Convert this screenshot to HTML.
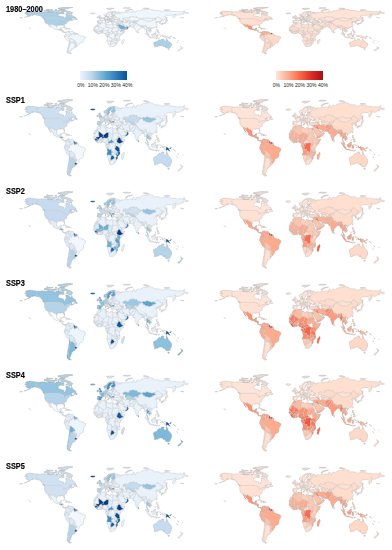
<!DOCTYPE html>
<html><head><meta charset="utf-8"><style>
html,body{margin:0;padding:0;background:#fff;}
body{width:392px;height:550px;position:relative;overflow:hidden;font-family:"Liberation Sans",sans-serif;}
.m{position:absolute;overflow:visible;filter:blur(0.7px);}
svg *{vector-effect:non-scaling-stroke;}
.lab{position:absolute;font-weight:bold;font-size:8.4px;line-height:1;color:#000;-webkit-text-stroke:0.15px #000;white-space:nowrap;letter-spacing:0px;transform:scaleX(0.88);transform-origin:0 0}
.cb{position:absolute;}
.cbl{position:absolute;font-size:5.0px;line-height:1;color:#222;white-space:nowrap;}
</style></head><body>
<svg width="0" height="0" style="position:absolute"><defs><path id="land" d="M-168.1 -65.6 -164.5 -66.6 -162 -66.5 -164 -67.6 -166.8 -68.35 -163.5 -69.8 -157 -71.3 -152 -70.8 -146 -70.2 -141 -69.7 -136 -69.1 -133 -69.6 -129.5 -70 -125 -69.4 -120 -69.3 -115 -68.8 -110 -68 -106 -68.8 -101.5 -67.8 -98 -68 -95.5 -68.5 -94.5 -71.3 -92 -70 -89 -68.9 -86.5 -68 -84 -69.3 -82 -68.5 -81.3 -67.2 -83.5 -66.5 -86.5 -66.5 -88 -64.2 -90.7 -63.3 -93 -62 -94.5 -60 -94.2 -58.8 -92.5 -57.1 -88.5 -56.4 -85.5 -55.3 -82.3 -55.1 -82.3 -53 -80.5 -51.3 -79 -51.6 -78.8 -54.5 -76.6 -56.5 -77.3 -58.3 -78 -60.5 -77.8 -62.4 -74 -62.2 -71.5 -61.1 -69.6 -60.8 -69.3 -58.8 -67.5 -58.3 -65.9 -59.5 -64.5 -60.3 -63 -58 -61.5 -56.5 -59.5 -55 -57.3 -54 -55.7 -52.3 -57.2 -51.4 -60 -50.2 -64.5 -50.2 -67 -49.4 -69.7 -48.1 -68 -48.6 -65 -49.2 -64.2 -48.8 -65 -48 -64.7 -46.8 -63.3 -45.8 -61 -45.6 -60.3 -47 -59.8 -46 -61.5 -45.3 -63.5 -44.6 -65.7 -43.5 -66 -45.1 -67 -44.8 -68.8 -44.3 -70.2 -43.6 -70.8 -42.5 -70 -41.8 -71.5 -41.3 -74 -40.5 -74.2 -39.5 -75 -38.8 -75.8 -37.2 -76 -36.8 -75.5 -35.3 -76.5 -34.7 -77.9 -33.9 -79.2 -33.2 -80.9 -32 -81.4 -30.5 -80.6 -28.5 -80.1 -26.6 -80.4 -25.2 -81.2 -25.2 -81.8 -26.5 -82.7 -28 -82.8 -29.2 -84 -30.1 -85.4 -29.7 -86.5 -30.4 -88.5 -30.4 -89.5 -30.2 -89.3 -29.1 -90.5 -29.1 -92 -29.6 -94 -29.6 -95 -29.2 -96.8 -28.1 -97.4 -27.2 -97.2 -25.9 -97.7 -24 -97.8 -22.3 -97.2 -20.6 -96.4 -19.3 -95 -18.5 -94.4 -18.2 -92.5 -18.6 -91.3 -18.6 -90.5 -19.5 -90.4 -20.9 -88.5 -21.5 -86.8 -21.3 -87.5 -19.6 -87.8 -18.3 -88.3 -17.5 -88.3 -16 -87.5 -15.8 -85.5 -15.9 -84 -15.5 -83.2 -15 -83.5 -13.8 -83.7 -12 -83.8 -11 -83.3 -10.3 -82 -9 -81 -8.8 -79.5 -9.5 -78 -8.9 -77.4 -8.6 -77.3 -8 -77.9 -7.2 -78.5 -8.2 -80 -7.3 -80.5 -8.2 -82 -8.2 -83.5 -8.5 -85 -9.6 -85.8 -10.2 -85.7 -11 -87.3 -12.8 -88 -13.2 -89.8 -13.5 -91.5 -13.9 -92.3 -14.5 -93.9 -15.9 -96.5 -15.6 -98.5 -16.3 -100 -16.9 -101.7 -17.8 -103.5 -18.3 -105 -19.4 -105.6 -20.4 -105.3 -21.5 -105.8 -22.6 -106.9 -23.8 -108.2 -25.2 -109.4 -26 -110.6 -27.8 -111.7 -28.9 -112.8 -30.5 -113.2 -31.2 -114.8 -31.8 -114.5 -30.2 -113.3 -28.8 -112.6 -27.6 -112.1 -26.4 -111.3 -25.5 -110.7 -24.4 -110 -23.7 -109.5 -23.2 -109.9 -22.9 -110.3 -23.6 -112.1 -24.8 -113.6 -26.7 -115.1 -27.8 -114.3 -28.6 -115.8 -30.3 -116.7 -31.8 -117.1 -32.5 -118.4 -33.8 -120.6 -34.5 -121.9 -36.5 -122.5 -37.5 -123 -38 -123.8 -39.8 -124.3 -40.4 -124.2 -42 -124.1 -44 -124 -46.2 -124.7 -48.4 -123 -48.2 -123.2 -49 -124.8 -50 -125 -50.3 -127.5 -51 -128.3 -52.5 -130 -54.3 -130.5 -55 -131.8 -56 -133 -57 -135.2 -58.5 -136.5 -58.2 -138.5 -59.1 -140.5 -59.7 -143.5 -60 -146 -60.6 -148 -60 -149.8 -59.7 -151.8 -59.3 -151.3 -60.7 -149.5 -61.2 -152 -60.2 -153.5 -59.3 -154 -58 -156.3 -57 -158.5 -56 -161 -55.4 -163.5 -54.7 -164.8 -54.4 -163 -55.2 -160.5 -56.2 -158.8 -57.2 -157.5 -58.2 -158.5 -58.8 -160 -58.6 -162 -58.7 -162.2 -60 -164.8 -60.3 -165.3 -61.5 -164.8 -62.7 -163.2 -63.1 -161 -64.4 -163.5 -64.5 -166.2 -64.6ZM-77.4 -8.6 -76 -9.4 -75.5 -10.6 -74.2 -11.2 -72.3 -11.9 -71.3 -12.4 -71.1 -11.5 -71.6 -10.9 -70.2 -11.5 -70 -12.1 -69.5 -11.5 -68.2 -10.6 -66.2 -10.6 -64.3 -10.6 -62.5 -10.7 -61.8 -10.1 -61 -8.6 -59.8 -8.3 -58.2 -6.8 -57.1 -6 -55 -6 -53.8 -5.7 -52 -4.8 -51.2 -4 -50.6 -1.9 -50 -1.5 -49.9 0.2 -48.5 1 -46.5 1 -44.3 2.5 -42 2.8 -39.5 3 -37.2 4.8 -35.3 5.3 -34.8 7.5 -35.2 9 -37 11 -38.5 13 -39 15 -39.2 17.5 -39.7 19.6 -40.9 22 -42 22.9 -44.5 23.2 -46.5 24 -48.4 25.8 -48.6 28 -49.8 29.3 -51 31 -52.2 32.2 -53.4 33.7 -54.9 34.9 -56.4 34.8 -58.4 34.5 -57.2 36 -56.8 36.6 -57.6 38.2 -61.5 39 -62.3 39.2 -62.2 40.6 -65 41 -64.5 42.3 -63.8 42.5 -65 43 -65.5 45 -67.5 46.3 -66 47.7 -67.6 49.3 -68.8 50.5 -69 51.6 -68.4 52.4 -68.5 53 -67 54.5 -65.2 54.7 -68 55.5 -70 55.2 -72 54 -73.5 53 -75 51.5 -75.3 49 -74.5 47 -75.6 46.6 -74.2 45 -73.5 43 -73.8 41.5 -73.6 38.5 -73.2 37 -72.5 35 -71.7 33 -71.5 30 -71.3 27.5 -70.6 25 -70.2 22 -70.3 18.5 -71.4 17.5 -73.2 16.4 -75.2 15.2 -76.3 13.8 -77.2 12 -78.6 9.5 -79.6 7.5 -81.2 6 -81.3 4.3 -80.3 3.4 -80.9 2.2 -80 0.5 -80.1 -0.8 -79.2 -1.5 -78.8 -1.8 -77.5 -3.8 -77.4 -6.5 -77.9 -7.2 -77.3 -8ZM-5.6 -36 -6.4 -36.8 -7.4 -37.2 -8.9 -37 -8.8 -38.7 -9.5 -38.8 -8.9 -40.2 -8.7 -42 -9.3 -43 -8 -43.7 -5.8 -43.6 -1.8 -43.4 -1.2 -44.5 -1.2 -46 -2.2 -47.1 -4.5 -47.9 -4.7 -48.5 -3 -48.8 -1.6 -48.6 -1.4 -49.7 -0.2 -49.3 1.2 -50 1.6 -50.9 2.5 -51.1 3.8 -51.4 4.3 -52.2 4.8 -53 6 -53.5 7.2 -53.5 8.6 -53.9 8.9 -54.5 8.6 -55.5 8.1 -56.6 8.6 -57.1 10.6 -57.7 10.3 -56.2 9.8 -55 10.9 -54.4 12 -54.2 13.5 -54.4 14.3 -53.9 16 -54.3 18.5 -54.8 19.6 -54.4 21.2 -55.2 21 -56.5 21.6 -57.4 22.6 -57.7 23.3 -57 24.4 -57.3 24.4 -58.3 23.5 -58.7 23.5 -59.2 25 -59.5 28 -59.5 29.5 -59.9 28.5 -60.5 26.5 -60.4 22.9 -59.8 21.4 -60.8 21.5 -61.8 21 -62.6 22.2 -63.5 24.5 -64.8 25.4 -65.1 25.4 -65.6 24.2 -65.8 22.3 -65.8 21.2 -64.8 20.3 -63.7 18.8 -63.1 17.5 -62.3 17.3 -61.2 17.5 -60.6 18.8 -60.1 18 -59 16.5 -57.9 16.6 -56.5 15.8 -56.1 14.2 -55.4 12.9 -55.4 12.5 -56.3 11.8 -57.6 11.2 -58.9 10.5 -59.4 9.6 -59 8 -58.1 6.6 -58.1 5.5 -58.8 5.3 -60.3 5 -61.8 6.2 -62.6 8 -63.3 10 -64 11.5 -65 12.6 -66.2 14 -67.5 15.5 -68.5 17 -69.2 19 -69.8 21.5 -70.2 23.5 -70.7 25.8 -71.1 28 -71 30 -70.3 31 -70 33 -69.4 36.5 -69.1 40 -67.8 41.2 -66.6 38 -66.1 34.8 -66.6 32.5 -67 34 -64.5 37 -63.9 39.8 -64.6 42 -66.3 44 -66.1 43.5 -68.4 46 -67.8 46.5 -68.2 49 -67.8 53.5 -68.8 54.5 -68.2 58 -68.8 60 -69.2 61 -69.8 64 -69.3 67 -68.5 68.5 -68.2 66.8 -69.6 68.5 -71.5 70 -73.5 71.5 -72.8 72.5 -71 73.5 -68.5 75 -68.3 76.5 -72 79 -72.4 80.5 -73.5 83 -71.5 86 -74 90 -75.5 95 -76 100 -76.5 104 -77.7 107 -77.2 113 -76 113.5 -73.5 118 -73.5 123 -73.5 128 -72.8 130 -71 135 -71.6 140 -72.8 146 -72.3 150 -71.6 155 -71 160 -70.8 165 -69.7 170 -70 175 -69.8 180.6 -68.9 185 -67.6 188 -67 190.3 -66.1 188.5 -65.4 186.8 -64.4 184 -65 181.5 -65.5 180 -65.2 177 -64.7 179 -62.5 177 -62.5 173 -61.7 170 -60 166 -60 163 -59.9 162 -58 162.5 -56.5 161 -54.5 159.5 -53 156.7 -51 156 -52.5 155.5 -55.5 156.5 -57.5 158.5 -58 160.5 -60.5 163 -62 159 -61.8 155 -59.3 151 -59.3 148 -59.3 145 -59.4 142.5 -58.8 140.5 -57.5 138 -56 137 -54 140.2 -53.5 141.2 -52.8 141.3 -51 140.5 -48.5 138.5 -46.6 136 -44 133 -42.7 131.5 -42.9 130.7 -42.3 129.6 -41 129.4 -40.7 128 -39.8 128.3 -38.6 129.4 -36 129.2 -35.2 127.5 -34.6 126.3 -34.5 126.5 -36 126.8 -37 126.1 -37.7 125.2 -37.8 125.3 -39.5 124.3 -39.9 122.2 -40.5 121.6 -38.8 121 -39.5 122.2 -40.8 121.5 -41 120 -40.2 119 -39.2 117.7 -38.9 118.5 -38 119 -37.2 120.3 -37.7 122.6 -37.4 120.5 -36 119.2 -35 120.5 -33.5 121.8 -31.7 121.9 -30.8 121.5 -29.5 120.5 -27.5 119.5 -26 118.5 -24.6 116.5 -23 114.2 -22.3 113 -22 110.5 -21 110.2 -20.3 109.7 -21.5 108.5 -21.6 107 -21 106.5 -20 105.8 -19 106.5 -18 107.1 -16.8 108.3 -16 109 -14.5 109.3 -12.8 109 -11.3 107.5 -10.5 106.5 -9.5 105 -8.6 104.8 -9.8 104.5 -10.4 103.5 -10.6 102.9 -11.7 102.4 -12.2 100.9 -12.7 100.9 -13.5 100.5 -13.5 99.9 -13 99.2 -10.3 100.3 -8.4 100.5 -7.2 101.5 -6.8 102.3 -6.2 103.4 -4.5 103.5 -2.8 104.3 -1.4 103.4 -1.3 101.3 -2.8 100.4 -4.2 100.3 -5.5 100.1 -6.4 98.5 -8.2 98.3 -9 98.7 -10.5 98.5 -12.5 97.8 -15 97.5 -16.5 96.3 -16.8 95 -15.8 94.3 -16.2 94.6 -18 93.7 -19.5 92.4 -20.7 92.1 -21.3 91.8 -22.3 90.5 -22 89.1 -21.7 87 -21.5 86.5 -20.3 85 -19.3 84 -18.2 82.3 -17 80.3 -15.7 80.1 -13.5 79.8 -11.5 79.3 -10.3 78.2 -8.9 77.5 -8.1 76.6 -8.9 76 -10.5 75.4 -12 74.6 -14.5 73.4 -16.5 72.9 -19 72.8 -20.5 72.6 -21.5 72.5 -22.2 71.2 -20.8 70.1 -21.2 69 -22.3 70 -22.8 68.4 -23.5 67.4 -24 66.6 -25.3 64.5 -25.2 61.6 -25.2 59.5 -25.4 57.3 -25.8 56.9 -27.1 56.3 -27.2 55 -26.7 53.7 -26.7 52 -27.8 50.6 -29.3 49 -30.3 48.5 -29.9 48 -29.4 48.5 -28 49.6 -27 50.2 -26.2 50.5 -25.3 50.8 -24.75 51.2 -26.1 51.6 -25.3 51.2 -24.6 52 -24 54 -24.2 55.5 -25.5 56.1 -26.1 56.3 -24.9 56.8 -24.2 58.2 -23.6 59.8 -22.5 58.5 -20.4 57.7 -19 56.6 -18.5 55.3 -17.4 53.1 -16.7 52.2 -15.6 49.5 -14.6 48 -14 45.5 -13 43.5 -12.7 42.7 -15.4 42.7 -16.6 41.5 -18 40.2 -20 39.1 -21.5 38.5 -23.6 37.2 -25 36.5 -26.2 35.2 -28 34.9 -29.5 34.2 -31.3 34.5 -31.6 35 -32.8 35.5 -33.9 35.9 -35.4 36 -36.5 35.5 -36.6 34.5 -36.8 32.5 -36.1 30.5 -36.5 29 -36.6 27.3 -37 26.5 -38.5 26.2 -39.5 26.2 -40.1 26 -40.8 24.5 -40.9 23.7 -40.2 22.6 -40.5 22.8 -39.5 23.3 -38.3 24 -38 23.2 -37.4 23.1 -36.5 22.5 -36.4 21.7 -36.8 21.1 -37.8 21.6 -38.3 21 -38.8 20.2 -39.6 19.4 -40.3 19.5 -41.8 18.5 -42.4 17 -43.1 15.5 -44 14.5 -45.2 13.6 -45.2 13.7 -45.7 12.3 -45.3 12.5 -44.2 13.6 -43.5 14.5 -42.2 16 -41.4 18.5 -40.1 17 -40.5 16.5 -39.6 17.1 -39 16.1 -38 15.6 -38.3 15.8 -39.6 15 -40.2 14 -40.8 12.5 -41.5 11 -42.5 10.5 -43.5 9 -44.4 7.5 -43.8 6 -43.1 4.5 -43.5 3.2 -43.2 3.2 -42 2.2 -41.3 0.9 -41 -0.3 -39.5 0.2 -38.7 -0.7 -37.6 -2.1 -36.7 -4.4 -36.7ZM34.2 -31.3 34.9 -29.5 34.3 -27.8 33.6 -28.3 32.6 -29.9 32.5 -29.5 33.6 -27.3 34 -26.5 35.5 -24 36.9 -22 37.3 -19 38.6 -18 39.5 -15.5 41 -14.2 42.8 -12.5 43.3 -11.9 44 -10.5 45 -10.5 47 -11.1 49 -11.3 51.3 -11.8 51 -10.4 50.5 -9 49.2 -6.5 48 -4.5 46.5 -2.5 44 -1 42 1 40.7 2.5 39.5 4.5 39 6.5 39.5 8 40.2 10.5 40.6 14 40.5 15.5 39 17 36.8 18.5 35 20 35.5 22.2 35.4 24 32.8 25.8 32.6 27.5 32.2 28.8 31 30 30 31.3 28 33 25.6 34 22.5 34 20 34.8 18.4 34.2 18.2 33 17.8 31 16.5 28.6 15.2 27 14.5 23 13.2 20 12 18 11.8 16 12.3 14 13.6 11.8 13.2 9.5 12.3 6 12.2 5.8 11.8 4.5 10.9 3.6 9.5 2 9 0.7 9.5 -1 9.8 -3 9.3 -3.9 8.5 -4.5 7 -4.4 5.6 -4.5 4.5 -6.3 2.6 -6.4 1 -6 -1 -5 -2 -4.7 -4 -5.2 -7.5 -4.4 -9.5 -5.4 -11.5 -6.9 -13.2 -8.5 -13.4 -9.4 -14.7 -10.7 -15.4 -11.3 -16.7 -12.4 -17.1 -14.5 -17.5 -14.7 -16.7 -15.5 -16.1 -18 -16.5 -19.5 -17.05 -20.8 -16.2 -22.5 -15 -24.5 -14.5 -26 -13.2 -27.6 -11.5 -28.2 -10 -29.5 -9.8 -30.6 -9.3 -32.5 -8.5 -33.3 -6.8 -34.1 -5.9 -35.8 -5.2 -35.8 -3 -35.3 -1.3 -35.3 1 -36.5 3.5 -36.8 6.5 -37 8.6 -36.9 10.3 -37.3 11.1 -37 11 -36.4 10.5 -35.5 11.1 -35.2 10.3 -34.1 11.2 -33.2 12.5 -32.8 15.2 -32.3 15.7 -31.4 18.5 -30.3 19.9 -30.9 20 -32.1 21.5 -32.9 23.1 -32.6 25 -31.7 27 -31.4 29 -30.9 30.5 -31.5 32.3 -31.3ZM49.3 12 50.5 15.5 49.7 17 48.5 20 47.5 23 47 25 45.2 25.5 44 24.5 43.3 22 44.3 20 44 17.5 44.5 16.2 46.5 15.5 47.9 13.5ZM114 22 114.7 21.8 116.7 20.6 119 20 121 19.5 122.3 17.3 123.5 16.5 125 14.8 127 14 128.5 15 129.7 14.9 130.2 13.2 130.9 12.4 132.5 11.4 134 12 135.8 12 136.9 12.2 136.5 13.3 135.5 14.8 137.6 16.2 139.3 17.5 140.8 17.4 141.6 15 141.5 12.5 142.5 10.7 143.5 12.8 143.6 14.3 145.3 15 145.5 16.8 146.3 19 148.8 20.4 150.7 22.5 151.5 24 153.1 25.3 153.6 28.5 153 31 152.3 32.6 151.2 33.9 150.2 35.7 149.9 37.5 148 37.8 146.3 39.1 144.9 37.9 143.5 38.8 141 38.1 139.7 37.3 139.5 35.8 138.5 35.6 138.1 34.2 137.4 35.1 137.8 32.5 136 34.8 135.2 34.7 134.2 32.8 132 32 129 31.6 126 32.3 124 33 123.5 33.9 120 33.9 118 35 116 35 115 34.3 115.6 33.3 115.7 31.7 115 29.5 114.6 28.3 113.5 26.5 113.8 25.5 113.6 24.5 113.5 23ZM144.6 40.7 148.3 40.9 148.2 42.3 147.5 43.2 146 43.6 145.2 42.2ZM172.7 34.4 174.5 35.8 175.9 37.3 178 37.6 178.5 37.7 177.2 39.2 176.8 39.9 175.3 41.6 174.6 41.3 175 40 173.8 39.2 174.6 38.2 174.3 37 173 35.5ZM172.7 40.5 174.3 41.5 173.6 42.8 172.8 43.8 171.2 44.5 170.6 45.9 169.3 46.6 166.5 46 166.8 45.3 168.3 44.1 170.5 43 171.4 41.7ZM130.9 1.2 132 0.4 134 0.9 134.2 2.8 135.5 3.3 137.5 1.6 139 2.1 141 2.6 144 3.8 145.8 5.2 147.5 6 147.9 6.8 147 7.5 148.2 8.1 149.5 9.6 150.8 10.3 149.7 10.3 147.5 10.1 146 8.2 144.2 7.6 143.4 8.9 142.6 9.3 141 9.1 139.5 8.1 138.3 8.4 137.7 7.4 138 6.3 137 5 135.5 4.4 134 3.9 132.9 4.1 132.2 2.9 133.2 2.4 131.3 1.6ZM148.3 5.5 150 5 151.5 4.2 152.3 4.5 151.5 5.5 150 6.2 148.4 6ZM150.5 2.6 152.2 3.4 153.2 4.6 152.8 4.8 151.5 3.6ZM95.3 -5.6 97.5 -5.2 98.7 -3.8 100.4 -2.2 101.5 -1.7 103.7 0.9 104.5 1.9 106 3.2 105.8 5.8 104.6 5.9 102.3 4 101 2.4 100.4 1 99.2 -1 98.7 -1.8 97.6 -2.8 96.5 -3.8ZM105.2 6.8 106.1 5.9 108.3 6.3 110.4 6.9 111.5 6.6 112.7 6.9 114.5 7.8 114.4 8.7 111 8.2 108.5 7.8 106.4 7.4ZM115 8.1 118.9 8.3 119.5 8.7 116 8.9ZM119.8 8.5 123 8.2 122.9 8.6 120 8.9ZM123.5 10.3 124.4 9.2 126.9 8.4 127.2 8.6 125 9.6 124 10.4ZM119 9.5 120.8 9.9 120.3 10.3 118.9 9.8ZM109 -1.6 109.6 -2.1 111 -1.6 111.5 -2.9 113 -3.2 114 -4.6 115.4 -5.2 116.2 -6.2 117.2 -7 118.1 -5.8 119.2 -5.3 118.3 -4.4 117.7 -3.1 118 -2.2 119 -0.9 117.5 -0.5 117.4 0.5 116.6 1.5 116.5 2.7 116 3.8 114.5 3.9 113.2 3.2 111.8 3.4 110.3 2.9 110.1 1.7 109.3 0.7 108.9 -0.5ZM118.8 2.8 119.7 0 120.1 -0.7 121.5 -1.1 123.5 -0.9 125 -1.6 124.3 -0.4 122.5 -0.5 120.6 -0.4 120.2 0.8 121.6 0.9 123.4 0.9 121.8 1.7 122.9 4.3 123.2 5.2 122.3 5.4 121.2 4 120.9 2.8 120.4 3 120.4 5.5 119.4 5.5 119.6 3.6ZM127.5 -1.9 128.1 -1.5 128.8 -0.3 128 0.8 127.4 0ZM128 3.2 130.8 3.5 130.5 3.9 128.2 3.6ZM120.6 -18.5 122.3 -18.5 122.1 -17 121.6 -15.8 122 -14.2 123.8 -13.8 124.2 -12.6 123 -13 121.8 -13.8 120.6 -14.2 120.1 -16 120.4 -17.5ZM122 -6.9 123.6 -7.8 124.2 -8.2 125.5 -9.8 126.6 -7.3 126.2 -6.3 125.4 -5.6 124 -6.3ZM124.3 -12.6 125.7 -11.1 125 -10.1 124.3 -11ZM121.9 -11.9 123.2 -11 123.5 -9.2 123 -9.2 122.3 -10.4ZM117.2 -8.4 119.6 -11.4 119.4 -10.3ZM121 -25.1 122 -25 121.5 -23.5 120.8 -21.9 120.1 -23 120.3 -24.5ZM108.6 -19.2 110.2 -20.1 111 -19.6 110 -18.2 109 -18.4ZM130.9 -34 132 -35.3 133.5 -35.5 135.2 -35.7 136.6 -37.2 137 -36.9 138.5 -37.5 139.5 -38.5 140 -39.9 140 -40.8 141.4 -41.4 141.5 -40.2 142 -39.5 141 -38.2 141 -36.8 140.6 -35.7 139.8 -35 138.8 -34.6 137 -34.6 136.8 -34.2 135.8 -33.5 135 -34.3 133.5 -34.4 132 -33.9 131 -33.9ZM140 -41.5 141.2 -41.8 143.2 -42 145.5 -43.3 145.2 -44.2 142 -45.5 141.6 -44.5 141.4 -43.2 140.3 -43.3 140 -42.3ZM129.8 -33.2 131 -33.9 131.8 -32.8 131.3 -31.3 130.2 -31.1 130.2 -32.5ZM132.5 -33.3 134.7 -34.2 134.2 -33.3 133 -32.7ZM142 -46 143.5 -46.6 142.8 -48.5 143.2 -51 142.8 -54.3 142.3 -54.1 142 -51.5 141.8 -48.5ZM79.8 -9.7 80.3 -9.8 81.9 -7.5 81.5 -6.2 80.6 -5.9 79.9 -6.8 79.8 -8.5ZM-5.7 -50 -3 -50.6 1.3 -51.2 1.7 -52.6 0.3 -53.5 -0.5 -54.5 -1.6 -55.6 -2.1 -57.2 -1.8 -57.6 -3.1 -58.6 -5 -58.6 -5.8 -57.5 -5.5 -56 -4.9 -55 -3.1 -54.9 -3.4 -53.9 -4.6 -53.3 -4.2 -52.3 -5.3 -51.8 -3.2 -51.4 -4.2 -51.2ZM-6.1 -54.9 -5.5 -54.5 -6.2 -53.3 -6.4 -52.2 -8 -51.6 -10.3 -51.8 -9.5 -53.3 -10.1 -54.1 -8.3 -55.2 -7.2 -55.3ZM-24 -65.5 -22 -66.4 -18.5 -66.2 -16 -66.5 -14.5 -65.8 -13.6 -65 -15 -64.3 -18.7 -63.4 -21.5 -63.8 -22.7 -64.1 -24 -64.8ZM12.4 -38.1 15.6 -38.3 15.1 -36.7 12.5 -37.6ZM8.2 -41 9.8 -41 9.6 -39.1 8.5 -38.9ZM8.6 -42.9 9.5 -43 9.4 -41.4 8.8 -41.6ZM23.5 -35.5 26.3 -35.3 26 -35 23.6 -35.2ZM32.3 -35.1 34.6 -35.7 33.9 -34.9 32.7 -34.6ZM11 -55.7 12.6 -56 12.3 -55 11.2 -55.2ZM-84.9 -21.9 -82.5 -23.1 -80.5 -23.1 -77.5 -21.8 -75.5 -21.1 -74.2 -20.3 -74.5 -19.9 -77.5 -19.8 -78.2 -20.6 -79.5 -21.5 -81.5 -22.1 -83.2 -22 -84.4 -21.8ZM-74.5 -18.4 -72.8 -19.9 -70 -19.7 -68.4 -18.6 -70 -18.2 -71.4 -17.6 -72.8 -18.1 -74.4 -18.2ZM-78.4 -18.4 -76.2 -18.2 -76.8 -17.9 -78.2 -18.2ZM-67.3 -18.4 -65.6 -18.3 -65.8 -18 -67.2 -18ZM-59.4 -47.6 -58.5 -49.1 -57.5 -50.7 -55.6 -51.6 -55.5 -49.9 -53.6 -49.2 -52.6 -47.5 -53.5 -46.6 -55.8 -46.9 -56.2 -47.6ZM-128.3 -50.8 -125.4 -50.2 -123.4 -48.3 -124.8 -48.6 -127.9 -50ZM-64.7 -62 -66.5 -61.9 -71.5 -63 -73.5 -64.4 -78 -64.5 -76.7 -65.6 -73.7 -67.9 -78.4 -70.2 -84 -69.9 -88.5 -70.5 -89.5 -73.3 -86 -73.8 -80 -73.7 -76 -72.9 -71 -71 -68 -70.3 -67 -69.2 -65 -68 -62 -66.8 -63.5 -65.5 -65 -64.5 -65.5 -63.5ZM-87.1 -63.6 -87.2 -64.9 -85.4 -66.1 -83.6 -65.9 -80.6 -64.2 -83.3 -62.9ZM-90 -81.5 -85 -82.3 -75 -83.1 -62 -82.5 -64 -81.5 -70 -80.5 -75 -79.3 -74 -78.5 -76 -78 -79 -77 -82 -76.5 -89.5 -76.5 -89 -77.5 -87.5 -78.5 -92 -79.7 -92 -80.5ZM-95.5 -79.5 -94 -81.3 -90.5 -80.8 -91 -79.5 -93 -78.5ZM-92.5 -75.5 -90 -76.7 -85 -76.5 -80.5 -76.2 -80 -75.5 -82 -74.6 -88 -74.5 -92 -74.8ZM-117 -75.7 -114 -76.5 -110 -76.2 -105.5 -75.8 -106 -75.1 -109 -74.8 -113 -74.4 -117 -74.8ZM-101 -76.2 -97.5 -76.5 -97 -75.5 -100.5 -75 -101.5 -75.6ZM-121 -76.8 -117 -77.4 -116.5 -76.5 -119 -75.8ZM-125.5 -72.2 -124.5 -74.3 -120 -74.3 -115.5 -73.5 -119 -72.5 -120.5 -71.3 -124 -71.4ZM-119.3 -71.8 -117.5 -72.8 -113.5 -73.2 -110 -72.9 -106 -73.1 -102.5 -72.4 -101.3 -70.3 -104.5 -68.9 -108 -68.7 -113 -68.4 -117.5 -69.2 -114.5 -70.3 -117.8 -70.6ZM-101.8 -73.8 -97.5 -73.8 -97.3 -72.2 -99.5 -71.5 -102.7 -72.5ZM-96 -73.5 -94.5 -74.1 -90.5 -73.9 -92 -72.5 -94 -72 -95.5 -72.6ZM-100 -69 -97 -69.8 -95.5 -69 -97 -68.3 -99 -68.5ZM52 -71.3 53.5 -73.5 56 -75 61 -76.2 68.5 -76.9 67 -75.8 59 -74.2 56.5 -72.5 55 -70.6ZM47 -80.5 50 -81.8 60 -81.8 64 -81 58 -80ZM91 -80.3 95 -81.2 100 -80.5 104 -79.2 101 -78.2 96 -78.5ZM137 -75.5 140 -76 143 -75.8 148 -75.4 150 -75 146 -74.7 141 -74 139 -74.5ZM178.6 -71 180 -71.6 182.5 -71.2 180 -70.8ZM11 -79.6 14 -80 18 -80.3 22 -80.4 27.5 -80.2 27 -79.3 24 -78.4 22.5 -77.3 16.5 -76.5 14 -77.3 12 -78.2ZM-166.5 -54 -164.8 -54.5 -165 -54.1 -167 -53.4 -168.8 -52.9 -168 -53.5ZM-178.5 -51.9 -176 -52 -173 -52.3 -172 -52 -176 -51.6 -178.5 -51.6ZM172.5 -53 174 -52.8 178 -52 179.8 -51.8 178 -51.6 174 -52.6 172.5 -52.7ZM164 20.1 165.5 21 167.1 22.3 166.5 22.4 164.8 21.2ZM177.2 17.5 178.6 17.6 178.2 18.2 177.3 18.1ZM159.5 8 161 9 162 10.5 160.5 9.9 159 9 157 7.5 156.5 7ZM166.6 14.8 167.3 15.3 168.3 16.5 168.2 17.7 167.5 16.5ZM-156.1 -20.3 -154.8 -19.5 -155.9 -18.9 -156.1 -19.7ZM-156.7 -21 -156 -20.9 -156.4 -20.6ZM-158.3 -21.6 -157.7 -21.5 -158.1 -21.3ZM-159.8 -22.2 -159.3 -22.2 -159.5 -21.9ZM27.5 -42.5 28 -43.4 28.6 -44.2 29.7 -45.2 30.7 -46.5 31.8 -46.6 33 -46 32.5 -45.4 33.6 -44.5 35 -44.8 36.5 -45.3 35 -46.2 37 -47 39.2 -47.2 38.2 -46.2 37.7 -45.3 37.3 -44.7 38.5 -44.3 40 -43.4 41.6 -41.6 40 -40.9 38 -40.9 36.3 -41.3 35.1 -42 33.5 -42 31.4 -41.2 29.1 -41.2 28 -41.6ZM47.5 -45.5 49 -46.5 51 -47 53 -46.8 53.2 -45.4 51.5 -44.5 51.3 -43.2 52.7 -42 52.8 -41.2 53.9 -40.7 53.2 -39.3 53.9 -37.3 51.5 -36.7 50 -37.4 49 -38 48.8 -38.8 49.3 -40.3 48.6 -41.6 47.5 -42.9 47.5 -43.8 46.8 -44.6Z" fill-rule="evenodd"/><clipPath id="lc"><use href="#land" clip-rule="evenodd"/></clipPath><path id="arc" d="M-64.7 -62 -66.5 -61.9 -71.5 -63 -73.5 -64.4 -78 -64.5 -76.7 -65.6 -73.7 -67.9 -78.4 -70.2 -84 -69.9 -88.5 -70.5 -89.5 -73.3 -86 -73.8 -80 -73.7 -76 -72.9 -71 -71 -68 -70.3 -67 -69.2 -65 -68 -62 -66.8 -63.5 -65.5 -65 -64.5 -65.5 -63.5ZM-90 -81.5 -85 -82.3 -75 -83.1 -62 -82.5 -64 -81.5 -70 -80.5 -75 -79.3 -74 -78.5 -76 -78 -79 -77 -82 -76.5 -89.5 -76.5 -89 -77.5 -87.5 -78.5 -92 -79.7 -92 -80.5ZM-92.5 -75.5 -90 -76.7 -85 -76.5 -80.5 -76.2 -80 -75.5 -82 -74.6 -88 -74.5 -92 -74.8ZM-95.5 -79.5 -94 -81.3 -90.5 -80.8 -91 -79.5 -93 -78.5ZM-117 -75.7 -114 -76.5 -110 -76.2 -105.5 -75.8 -106 -75.1 -109 -74.8 -113 -74.4 -117 -74.8ZM-101 -76.2 -97.5 -76.5 -97 -75.5 -100.5 -75 -101.5 -75.6ZM-121 -76.8 -117 -77.4 -116.5 -76.5 -119 -75.8ZM-125.5 -72.2 -124.5 -74.3 -120 -74.3 -115.5 -73.5 -119 -72.5 -120.5 -71.3 -124 -71.4ZM-119.3 -71.8 -117.5 -72.8 -113.5 -73.2 -110 -72.9 -106 -73.1 -102.5 -72.4 -101.3 -70.3 -104.5 -68.9 -108 -68.7 -113 -68.4 -117.5 -69.2 -114.5 -70.3 -117.8 -70.6ZM-101.8 -73.8 -97.5 -73.8 -97.3 -72.2 -99.5 -71.5 -102.7 -72.5ZM-96 -73.5 -94.5 -74.1 -90.5 -73.9 -92 -72.5 -94 -72 -95.5 -72.6ZM-100 -69 -97 -69.8 -95.5 -69 -97 -68.3 -99 -68.5ZM-87.1 -63.6 -87.2 -64.9 -85.4 -66.1 -83.6 -65.9 -80.6 -64.2 -83.3 -62.9ZM11 -79.6 14 -80 18 -80.3 22 -80.4 27.5 -80.2 27 -79.3 24 -78.4 22.5 -77.3 16.5 -76.5 14 -77.3 12 -78.2ZM47 -80.5 50 -81.8 60 -81.8 64 -81 58 -80ZM91 -80.3 95 -81.2 100 -80.5 104 -79.2 101 -78.2 96 -78.5ZM52 -71.3 53.5 -73.5 56 -75 61 -76.2 68.5 -76.9 67 -75.8 59 -74.2 56.5 -72.5 55 -70.6ZM137 -75.5 140 -76 143 -75.8 148 -75.4 150 -75 146 -74.7 141 -74 139 -74.5ZM178.6 -71 180 -71.6 182.5 -71.2 180 -70.8Z"/><path id="cUSA" d="M-130 -49 -95.2 -49 -95.2 -49.4 -89.6 -48 -84.8 -46.8 -83.6 -46.1 -82.4 -45 -82.5 -42.6 -83.1 -41.9 -80.5 -42.3 -79 -42.8 -79.2 -43.5 -76.8 -43.6 -75.4 -44.6 -74.7 -45 -71.5 -45 -70.2 -46.4 -69.2 -47.4 -68.2 -47.3 -67.8 -47 -67.8 -45.6 -67 -44.8 -60 -42 -72 -30 -78 -24.5 -84 -24 -90 -25 -97.2 -25.9 -99.5 -27.5 -101.4 -29.8 -103.2 -29 -104.5 -29.6 -106.5 -31.8 -108.2 -31.8 -108.2 -31.3 -111 -31.3 -114.8 -32.5 -117.1 -32.5 -125 -31 -130 -40ZM170 -51 180 -51 180 -53.3 170 -53.3ZM-161 -18.5 -154 -18.5 -154 -22.5 -161 -22.5Z"/><path id="cALA" d="M-141 -72 -141 -60.3 -139 -60.2 -137.5 -59 -135.5 -59.8 -133.4 -58.4 -131.8 -56.6 -130 -55.9 -130 -55.3 -130.6 -54.7 -134 -54 -165 -52 -180 -50 -180 -72ZM170 -51 180 -51 180 -53.3 170 -53.3Z"/><path id="cCAN" d="M-141 -84 -141 -60.3 -139 -60.2 -137.5 -59 -135.5 -59.8 -133.4 -58.4 -131.8 -56.6 -130 -55.9 -130 -55.3 -130.6 -54.7 -134 -52 -128 -48.3 -123.3 -48.3 -123.3 -49 -95.2 -49 -95.2 -49.4 -89.6 -48 -84.8 -46.8 -83.6 -46.1 -82.4 -45 -82.5 -42.6 -83.1 -41.9 -80.5 -42.3 -79 -42.8 -79.2 -43.5 -76.8 -43.6 -75.4 -44.6 -74.7 -45 -71.5 -45 -70.2 -46.4 -69.2 -47.4 -68.2 -47.3 -67.8 -47 -67.8 -45.6 -67 -44.8 -64 -42 -50 -45 -50 -84Z"/><path id="cMEX" d="M-117.1 -32.5 -114.8 -32.5 -111 -31.3 -108.2 -31.3 -108.2 -31.8 -106.5 -31.8 -104.5 -29.6 -103.2 -29 -101.4 -29.8 -99.5 -27.5 -97.2 -25.9 -95 -25 -95 -20 -88 -22.5 -86 -21.5 -87.5 -18.5 -88.3 -18.5 -89.15 -17.95 -89.15 -17.8 -90.4 -17.25 -90.4 -16.1 -91.7 -16.1 -92.2 -15.1 -92.2 -14.5 -93 -13 -110 -15 -118 -28 -118 -32.5Z"/><path id="cGTM" d="M-92.2 -14.5 -92.2 -15.1 -91.7 -16.1 -90.4 -16.1 -90.4 -17.25 -89.15 -17.8 -89.15 -15.9 -88.2 -15.7 -89.35 -14.4 -90.1 -13.7 -91.5 -13.5Z"/><path id="cBLZ" d="M-89.15 -17.95 -88.3 -18.5 -87.5 -18.5 -87.5 -16 -88.9 -15.9 -89.15 -15.9Z"/><path id="cSLV" d="M-90.1 -13.7 -89.35 -14.4 -88.2 -14 -87.8 -13.9 -87.7 -13.3 -88 -12.8 -90 -13Z"/><path id="cHND" d="M-89.35 -14.4 -88.2 -15.7 -88 -16.3 -83 -16 -83.2 -15 -84.7 -14.7 -86 -14 -86.7 -13.7 -87.3 -13 -87.7 -13.3 -87.8 -13.9 -88.2 -14Z"/><path id="cNIC" d="M-87.3 -13 -86.7 -13.7 -86 -14 -84.7 -14.7 -83.2 -15 -82.5 -15 -82.5 -11 -83.65 -10.9 -85.7 -11.1 -86.5 -10.5 -87.8 -12Z"/><path id="cCRI" d="M-85.7 -11.1 -83.65 -10.9 -82.55 -9.55 -82.9 -8.05 -86 -8 -86.5 -10.5Z"/><path id="cPAN" d="M-82.55 -9.55 -82.9 -8.05 -82 -7 -79 -7 -77.9 -7.2 -77.35 -8.65 -78 -10 -82 -10Z"/><path id="cCUB" d="M-86 -21 -85 -23.5 -80 -23.6 -73.8 -20.2 -74.8 -19.5 -78 -19.5 -84 -21Z"/><path id="cHTI" d="M-75 -18 -75 -20.2 -71.7 -20.2 -71.7 -17.5Z"/><path id="cDOM" d="M-71.7 -17.5 -71.7 -20.2 -68 -20 -68 -18Z"/><path id="cJAM" d="M-78.6 -18.6 -76 -18.6 -76 -17.7 -78.6 -17.7Z"/><path id="cPRI" d="M-67.5 -18.6 -65.4 -18.6 -65.4 -17.8 -67.5 -17.8Z"/><path id="cCOL" d="M-77.35 -8.65 -77.9 -7.2 -80 -6 -80 -1.4 -78.8 -1.4 -77.4 -0.4 -75.2 0.1 -73.6 1.3 -72 2.4 -70.7 3.8 -69.9 4.2 -70.1 0.1 -69.5 -1 -66.9 -1.2 -67.3 -2 -67.8 -4.5 -67.5 -6.2 -70 -7 -72.4 -7.4 -72.5 -8 -73.3 -9.2 -72.8 -10.5 -72 -11.2 -71.3 -11.8 -71.2 -12.8 -75 -12 -77 -10Z"/><path id="cVEN" d="M-71.3 -11.8 -72 -11.2 -72.8 -10.5 -73.3 -9.2 -72.5 -8 -72.4 -7.4 -70 -7 -67.5 -6.2 -67.8 -4.5 -67.3 -2 -66.9 -1.2 -65.5 -0.8 -64.2 -1.5 -64.2 -2.5 -63.4 -3.9 -62.8 -4 -61 -4.5 -60.7 -5.2 -61.4 -5.9 -61.2 -6.7 -60.3 -7.1 -60 -8 -59.8 -8.4 -59 -9 -61 -11 -64 -11.5 -68 -12.5 -71.2 -12.8Z"/><path id="cGUY" d="M-59.8 -8.4 -60 -8 -60.3 -7.1 -61.2 -6.7 -61.4 -5.9 -60.7 -5.2 -60.1 -4.5 -59.6 -3.9 -59.9 -2.5 -59.7 -1.8 -58.8 -1.3 -56.5 -1.9 -57.2 -3.5 -57.2 -5.9 -57 -7 -59 -9Z"/><path id="cSUR" d="M-57.2 -5.9 -57.2 -3.5 -56.5 -1.9 -55.9 -1.9 -55 -2.5 -54.2 -2.2 -54 -3.6 -54.4 -4.5 -54 -5.8 -55 -6.5 -57 -6.5Z"/><path id="cGUF" d="M-54.2 -2.2 -54 -3.6 -54.4 -4.5 -54 -5.8 -52 -6 -51.5 -4.4 -52.5 -2.4Z"/><path id="cECU" d="M-78.8 -1.4 -77.4 -0.4 -75.2 0.1 -75.6 1.5 -76.6 2.6 -77.9 3 -78.4 3.8 -79.1 5 -80 4.4 -80.3 3.4 -82 3 -82 -1.5Z"/><path id="cPER" d="M-80.3 3.4 -80 4.4 -79.1 5 -78.4 3.8 -77.9 3 -76.6 2.6 -75.6 1.5 -75.2 0.1 -73.6 1.3 -72 2.4 -70.7 3.8 -69.9 4.2 -71 4.5 -73.2 6.5 -73.8 7.4 -72.9 9 -72.3 10 -70.6 9.6 -70.6 11 -69.6 11 -68.7 12.5 -69.1 14.5 -69.4 15.3 -69 16.2 -69.6 17.3 -69.5 17.5 -70.4 18.35 -74 19 -84 6 -82 3Z"/><path id="cBOL" d="M-69.6 11 -68.7 12.5 -69.1 14.5 -69.4 15.3 -69 16.2 -69.6 17.3 -69.5 17.5 -68.9 19 -68.4 19.4 -68.7 20.5 -68.2 21.3 -67.2 22.8 -66.2 21.8 -65 22.1 -64.3 22.8 -63.9 22 -62.65 22.25 -61.7 19.6 -59.1 19.3 -58.15 20.17 -57.6 18.2 -58.4 16.3 -60.2 16.3 -60.5 13.8 -61.9 13.5 -63.2 12.6 -64.4 12.4 -65.3 11.7 -65.4 10 -66.5 9.9 -68.4 11Z"/><path id="cPRY" d="M-62.65 22.25 -61.7 19.6 -59.1 19.3 -58.15 20.17 -57.9 22.1 -55.7 22.6 -55.3 24 -54.6 24 -54.6 25.6 -54.7 26.8 -55.7 27.4 -58.6 27.3 -57.6 25.4 -60 24 -61.5 23.3Z"/><path id="cURY" d="M-57.6 30.2 -56 30.9 -53.9 31.8 -53.2 32.5 -53.4 33.7 -53 35 -57 35.5 -58.4 34.4 -58.2 33Z"/><path id="cCHL" d="M-70.4 18.35 -69.5 17.5 -68.9 19 -68.4 19.4 -68.7 20.5 -68.2 21.3 -67.2 22.8 -67.3 24 -68.5 25.2 -68.3 27 -69.6 28.5 -69.8 30 -70 32.5 -70 33.5 -70.3 35 -70.6 36.5 -71.1 38 -71.5 40 -71.8 42 -71.6 44 -71.7 45.5 -71.8 46.5 -72.3 47.8 -73.3 49.3 -72.5 50.5 -72.3 51.5 -71.9 52 -69.5 52.2 -68.6 52.6 -68.6 54.9 -67 55.5 -67 58 -80 56 -78 20Z"/><path id="cARG" d="M-67.2 22.8 -66.2 21.8 -65 22.1 -64.3 22.8 -63.9 22 -62.65 22.25 -61.5 23.3 -60 24 -57.6 25.4 -58.6 27.3 -55.7 27.4 -54.7 26.8 -54.6 25.6 -53.9 25.6 -53.6 26.2 -53.7 27.1 -55 27.8 -56 28.6 -57.6 30.2 -58.2 33 -58.4 34.4 -56 36 -55 45 -64 56 -68.6 54.9 -68.6 52.6 -69.5 52.2 -71.9 52 -72.3 51.5 -72.5 50.5 -73.3 49.3 -72.3 47.8 -71.8 46.5 -71.7 45.5 -71.6 44 -71.8 42 -71.5 40 -71.1 38 -70.6 36.5 -70.3 35 -70 33.5 -70 32.5 -69.8 30 -69.6 28.5 -68.3 27 -68.5 25.2 -67.3 24Z"/><path id="cBRA" d="M-51.5 -4.4 -52.5 -2.4 -54.2 -2.2 -55 -2.5 -55.9 -1.9 -56.5 -1.9 -58.8 -1.3 -59.7 -1.8 -59.9 -2.5 -59.6 -3.9 -60.1 -4.5 -60.7 -5.2 -61 -4.5 -62.8 -4 -63.4 -3.9 -64.2 -2.5 -64.2 -1.5 -65.5 -0.8 -66.9 -1.2 -69.5 -1 -70.1 0.1 -69.9 4.2 -71 4.5 -73.2 6.5 -73.8 7.4 -72.9 9 -72.3 10 -70.6 9.6 -70.6 11 -69.6 11 -68.4 11 -66.5 9.9 -65.4 10 -65.3 11.7 -64.4 12.4 -63.2 12.6 -61.9 13.5 -60.5 13.8 -60.2 16.3 -58.4 16.3 -57.6 18.2 -58.15 20.17 -57.9 22.1 -55.7 22.6 -55.3 24 -54.6 24 -54.6 25.6 -53.9 25.6 -53.6 26.2 -53.7 27.1 -55 27.8 -56 28.6 -57.6 30.2 -56 30.9 -53.9 31.8 -53.2 32.5 -53.4 33.7 -50 35 -30 10 -45 -3 -50 -5Z"/><path id="cISL" d="M-25 -63 -12 -63 -12 -67 -25 -67Z"/><path id="cGBR" d="M-6 -49.5 2 -50.5 2.5 -53 -1 -59 -7 -59 -6.5 -55.5 -7.3 -55.1 -7.7 -54.6 -8.2 -54.4 -7.1 -54.1 -6.3 -54 -5.2 -53.8 -5.5 -52 -6 -50.5Z"/><path id="cIRL" d="M-7.3 -55.1 -7.7 -54.6 -8.2 -54.4 -7.1 -54.1 -6.3 -54 -5.2 -53.8 -5.5 -52 -11 -51 -11 -55.5 -7.5 -55.6Z"/><path id="cNOR" d="M4 -57.5 8 -57.5 11 -58.8 11.4 -58.9 11.8 -59.8 12.5 -60.5 12.3 -61.6 12.1 -62.7 12.2 -63.5 13.9 -64.5 14.5 -65.3 15.5 -66.3 16.5 -67.4 18.1 -68.5 20 -69 20.6 -69.1 22.4 -68.7 24.8 -68.6 26 -69.7 27.7 -70.1 28.4 -69.8 28.9 -69.05 29.3 -69.4 30.8 -69.8 32 -71 26 -72 15 -70 3 -62Z"/><path id="cSJM" d="M8 -76 35 -76 35 -81.5 8 -81.5Z"/><path id="cSWE" d="M11 -58.8 11.4 -58.9 11.8 -59.8 12.5 -60.5 12.3 -61.6 12.1 -62.7 12.2 -63.5 13.9 -64.5 14.5 -65.3 15.5 -66.3 16.5 -67.4 18.1 -68.5 20 -69 20.6 -69.1 21.5 -68.3 23.5 -67.9 23.6 -66.5 24.2 -65.8 22 -64 20 -61 19.8 -59 19.5 -57 17 -55 13.5 -55.2 12.9 -55.4 12.7 -56 11.8 -57.5Z"/><path id="cFIN" d="M20.6 -69.1 22.4 -68.7 24.8 -68.6 26 -69.7 27.7 -70.1 28.4 -69.8 28.9 -69.05 28.5 -68.5 30 -67.7 29.1 -66.9 30 -66 29.6 -65.2 30.1 -64.7 30 -63.8 31.5 -62.8 31 -62.1 29.4 -61.2 27.8 -60.5 26 -59.8 22 -59.5 20 -60 20 -61 22 -64 24.2 -65.8 23.6 -66.5 23.5 -67.9 21.5 -68.3Z"/><path id="cDNK" d="M7.5 -54.9 8.6 -54.9 9.9 -54.8 11.5 -54.4 12.5 -54.4 12.7 -55.6 12.6 -56.1 10.8 -58 7.5 -57.5Z"/><path id="cDEU" d="M7.2 -53.3 7.2 -54 8.6 -54.9 9.9 -54.8 11 -54.5 14.2 -54.2 14.2 -53.9 14.4 -53.3 14.1 -52.8 14.7 -52.1 14.7 -51.4 15 -51 14.3 -51.05 12.5 -50.4 12.1 -50.3 12.4 -49.8 12.9 -49.3 13.8 -48.8 13 -48.3 13 -47.5 12.2 -47.7 10.9 -47.5 9.7 -47.6 8.6 -47.7 7.6 -47.6 7.6 -48.5 8.2 -49 6.4 -49.2 6.4 -49.5 6.1 -50.1 6.3 -50.5 6 -50.8 6.1 -51.8 6.9 -52.2 7.1 -52.9Z"/><path id="cNLD" d="M7.2 -53.3 7.1 -52.9 6.9 -52.2 6.1 -51.8 6 -50.8 5.8 -51.2 5 -51.5 4.4 -51.4 3.4 -51.4 3 -52 4.5 -54 7.2 -54Z"/><path id="cBEL" d="M3.4 -51.4 4.4 -51.4 5 -51.5 5.8 -51.2 6 -50.8 6.3 -50.5 6.1 -50.1 5.8 -49.55 4.8 -49.95 4.2 -49.95 2.6 -51.1 2.5 -51.5Z"/><path id="cFRA" d="M2.6 -51.1 4.2 -49.95 4.8 -49.95 5.8 -49.55 6.4 -49.5 6.4 -49.2 8.2 -49 7.6 -48.5 7.6 -47.6 6.9 -47.4 6.1 -46.6 6 -46.1 6.8 -46 7 -45.9 6.6 -45.1 7 -44.2 7.5 -43.8 7.5 -43 3.5 -42.6 3.17 -42.43 1.7 -42.5 0.7 -42.8 -1.8 -43.4 -2.5 -44.5 -6 -48 -5 -49.5 1 -51ZM8.4 -43.2 9.7 -43.2 9.6 -41.2 8.5 -41.3Z"/><path id="cESP" d="M-1.8 -43.4 0.7 -42.8 1.7 -42.5 3.17 -42.43 3.5 -42.3 3.5 -41.5 1 -40 1.5 -38.5 -0.5 -37 -2 -36.3 -5 -36.1 -5.6 -35.98 -6.4 -36.6 -7.4 -37.1 -7.4 -37.6 -7 -38.2 -7.3 -38.8 -7 -39.7 -7.5 -39.7 -6.9 -40.3 -6.9 -41 -6.2 -41.6 -6.6 -41.95 -8.1 -41.8 -8.9 -41.9 -10 -43 -8 -44.5 -2.5 -44.5Z"/><path id="cPRT" d="M-7.4 -37.1 -7.4 -37.6 -7 -38.2 -7.3 -38.8 -7 -39.7 -7.5 -39.7 -6.9 -40.3 -6.9 -41 -6.2 -41.6 -6.6 -41.95 -8.1 -41.8 -8.9 -41.9 -10 -42 -10 -36.8Z"/><path id="cCHE" d="M9.7 -47.6 8.6 -47.7 7.6 -47.6 6.9 -47.4 6.1 -46.6 6 -46.1 6.8 -46 7 -45.9 7.9 -45.9 8.4 -46.3 9 -45.8 9.3 -46.5 10.1 -46.2 10.5 -46.9 9.6 -47.05Z"/><path id="cAUT" d="M9.7 -47.6 9.6 -47.05 10.5 -46.9 11.2 -46.95 12.2 -47.1 12.4 -46.7 13.7 -46.5 14.5 -46.4 15.6 -46.7 16.1 -46.87 16.5 -47.5 17.1 -48 16.9 -48.6 15 -49 14.7 -48.6 13.8 -48.8 13 -48.3 13 -47.5 12.2 -47.7 10.9 -47.5Z"/><path id="cITA" d="M7 -45.9 7.9 -45.9 8.4 -46.3 9 -45.8 9.3 -46.5 10.1 -46.2 10.5 -46.9 11.2 -46.95 12.2 -47.1 12.4 -46.7 13.7 -46.5 13.5 -46.2 13.6 -45.6 13 -45.2 14 -43.5 16.5 -42.2 19 -40.5 19 -39.5 17 -38 15.8 -36.4 14.5 -36.3 12 -37.3 8 -38.6 7.8 -41.3 10 -41.3 10.2 -42.2 10 -43.8 7.5 -43.8 7 -44.2 6.6 -45.1Z"/><path id="cPOL" d="M14.2 -53.9 14.4 -53.3 14.1 -52.8 14.7 -52.1 14.7 -51.4 15 -51 16.3 -50.7 16.9 -50.3 17.7 -50.3 18.6 -49.9 18.8 -49.5 19.9 -49.2 21 -49.4 22.6 -49.1 22.8 -49.6 24 -50.4 23.6 -51.5 23.5 -52.6 23.9 -53 23.5 -53.9 22.8 -54.4 19.6 -54.4 19 -55.5 14 -55Z"/><path id="cCZE" d="M15 -51 16.3 -50.7 16.9 -50.3 17.7 -50.3 18.6 -49.9 18.8 -49.5 18.1 -49 17.2 -48.8 16.9 -48.6 15 -49 14.7 -48.6 13.8 -48.8 12.9 -49.3 12.4 -49.8 12.1 -50.3 12.5 -50.4 14.3 -51.05Z"/><path id="cSVK" d="M18.8 -49.5 19.9 -49.2 21 -49.4 22.6 -49.1 22.2 -48.4 20.8 -48.5 19.5 -48.2 18.8 -47.8 17.8 -47.75 17.1 -48 16.9 -48.6 17.2 -48.8 18.1 -49Z"/><path id="cHUN" d="M16.1 -46.87 16.5 -47.5 17.1 -48 17.8 -47.75 18.8 -47.8 19.5 -48.2 20.8 -48.5 22.2 -48.4 22.9 -47.95 22 -47.4 21.2 -46.4 20.3 -46.1 19.6 -46.2 18.9 -45.9 17.6 -45.9 16.6 -46.5 16.3 -46.55Z"/><path id="cSVN" d="M13.7 -46.5 14.5 -46.4 15.6 -46.7 16.1 -46.87 16.3 -46.55 16.6 -46.5 15.7 -46.1 15.4 -45.8 15.3 -45.5 14.6 -45.6 13.6 -45.45 13.6 -45.6 13.5 -46.2Z"/><path id="cHRV" d="M13.6 -45.45 14.6 -45.6 15.3 -45.5 15.4 -45.8 15.7 -46.1 16.6 -46.5 17.6 -45.9 18.9 -45.9 19 -45.5 19 -44.9 16.9 -45.2 15.8 -45.2 16.2 -44.5 17.3 -43.5 18.5 -42.5 18.5 -42.4 17 -42.8 15 -44 13.5 -44.8Z"/><path id="cBIH" d="M19 -44.9 16.9 -45.2 15.8 -45.2 16.2 -44.5 17.3 -43.5 18.5 -42.5 18.7 -43.2 19.4 -43.6 19.6 -44.1 19.2 -44.4Z"/><path id="cSRB" d="M18.9 -45.9 19.6 -46.2 20.3 -46.1 21.4 -45.2 22.5 -44.6 22.7 -44.2 22.4 -43.5 23 -43 22.4 -42.3 21.5 -42.2 20.6 -41.9 20.5 -42.2 20.1 -42.6 19.8 -43 19.4 -43.6 19.6 -44.1 19.2 -44.4 19 -44.9 19 -45.5Z"/><path id="cMNE" d="M18.5 -42.5 18.7 -43.2 19.4 -43.6 19.8 -43 20.1 -42.6 19.7 -42.6 19.4 -41.9 18.6 -42Z"/><path id="cALB" d="M19.4 -41.9 19.7 -42.6 20.1 -42.6 20.5 -42.2 20.6 -41.9 20.5 -41.3 20.8 -40.9 21 -40.6 20.3 -39.7 20 -39.6 19 -40 19 -41.5Z"/><path id="cMKD" d="M20.6 -41.9 21.5 -42.2 22.4 -42.3 22.9 -42 22.9 -41.3 22 -41.1 20.8 -40.9 20.5 -41.3Z"/><path id="cGRC" d="M20 -39.6 20.3 -39.7 21 -40.6 20.8 -40.9 22 -41.1 22.9 -41.3 24 -41.6 25 -41.3 26.3 -41.7 26.6 -41.2 26.1 -40.7 25.5 -40 25.9 -38.3 26.6 -35 23.3 -34.8 21.5 -36.5 20.6 -38 19.8 -39.5Z"/><path id="cBGR" d="M22.7 -44.2 22.4 -43.5 23 -43 22.4 -42.3 22.9 -42 22.9 -41.3 24 -41.6 25 -41.3 26.3 -41.7 27 -42 28 -42 29 -42 29 -43.8 28.6 -43.75 27.9 -44 27.3 -44.1 25.5 -43.6 24 -43.7 22.9 -43.85Z"/><path id="cROU" d="M20.3 -46.1 21.2 -46.4 22 -47.4 22.9 -47.95 24.9 -47.7 26.6 -48.25 27.5 -47.5 28.1 -46.7 28.2 -45.5 29.7 -45.2 30 -44.5 28.6 -43.75 27.9 -44 27.3 -44.1 25.5 -43.6 24 -43.7 22.9 -43.85 22.7 -44.2 22.5 -44.6 21.4 -45.2Z"/><path id="cMDA" d="M26.6 -48.25 27.5 -48.5 28.3 -48.2 29.2 -47.9 29.8 -46.9 30.1 -46.4 28.9 -45.9 28.2 -45.5 28.1 -46.7 27.5 -47.5Z"/><path id="cUKR" d="M22.2 -48.4 22.6 -49.1 22.8 -49.6 24 -50.4 23.6 -51.5 25.5 -51.9 27.5 -51.6 29 -51.5 30.5 -51.3 31.3 -52.1 31.8 -52.1 33.5 -52.3 34.4 -51.2 35.4 -50.6 37.5 -50.3 38.2 -49.9 40 -49.6 39.7 -48.6 39.8 -47.8 38.2 -47.1 36 -45.2 33 -44.2 30.5 -45.5 29.7 -45.2 28.2 -45.5 28.9 -45.9 30.1 -46.4 29.8 -46.9 29.2 -47.9 28.3 -48.2 27.5 -48.5 26.6 -48.25 24.9 -47.7 22.9 -47.95Z"/><path id="cBLR" d="M23.6 -51.5 25.5 -51.9 27.5 -51.6 29 -51.5 30.5 -51.3 31.3 -52.1 31.8 -52.1 31.5 -53 32.7 -53.3 31.8 -54 30.8 -55.6 28.2 -56.1 26.6 -55.7 26.5 -55.2 25.7 -54.3 24.8 -54 23.5 -53.9 23.9 -53 23.5 -52.6Z"/><path id="cLTU" d="M21.05 -56.07 22 -56.4 24.8 -56.4 26.6 -55.7 26.5 -55.2 25.7 -54.3 24.8 -54 23.5 -53.9 22.8 -54.4 21.3 -55.2 20 -55.5 20 -56Z"/><path id="cLVA" d="M21.05 -56.07 22 -56.4 24.8 -56.4 26.6 -55.7 28.2 -56.1 27.8 -57.3 27.3 -57.55 26 -57.8 25.3 -58 24.3 -57.9 20.5 -57.5Z"/><path id="cEST" d="M24.3 -57.9 25.3 -58 26 -57.8 27.3 -57.55 27.7 -58 27.4 -58.9 28 -59.5 28 -60 22 -59.5 21.5 -58Z"/><path id="cRUS" d="M30.8 -69.8 29.3 -69.4 28.9 -69.05 28.5 -68.5 30 -67.7 29.1 -66.9 30 -66 29.6 -65.2 30.1 -64.7 30 -63.8 31.5 -62.8 31 -62.1 29.4 -61.2 27.8 -60.5 27.5 -60 28 -59.5 27.4 -58.9 27.7 -58 27.3 -57.55 27.8 -57.3 28.2 -56.1 30.8 -55.6 31.8 -54 32.7 -53.3 31.5 -53 31.8 -52.1 33.5 -52.3 34.4 -51.2 35.4 -50.6 37.5 -50.3 38.2 -49.9 40 -49.6 39.7 -48.6 39.8 -47.8 38.2 -47.1 37.5 -45.5 38 -44 40 -43.4 42 -43.2 43.5 -42.8 45 -42.6 46.4 -41.9 47.5 -41.3 48.5 -41.8 49 -43 49 -46.3 48.7 -47.1 47.3 -47.7 46.5 -48.4 47.1 -49.2 46.8 -49.9 48.6 -50.6 50.7 -51.6 52.3 -51.8 54.6 -51 55.7 -50.6 57.2 -51.1 58.6 -51.1 59.9 -50.8 61.4 -50.8 61.6 -52 60.3 -52.2 60.9 -52.8 61.7 -53.3 61 -53.9 62 -54 65.2 -54.6 68.2 -55 69.2 -55.4 70.8 -55.2 73.2 -53.9 73.6 -54 76.9 -54.4 76 -53.6 77.8 -53.3 80 -50.8 82 -50.8 83.4 -51 85 -50 86.8 -49.8 87.3 -49.1 87.8 -49.2 90 -50.1 92 -50.8 94 -50.5 96 -50 97.8 -51.5 98.9 -52.1 100 -51.7 102 -51.3 103 -50.4 105 -50.4 106.9 -50.3 108 -49.5 110 -49.2 112 -49.5 114.5 -50.2 116.7 -49.8 117.8 -49.5 119.1 -50 120 -51.5 121 -53.3 123.5 -53.5 125.5 -53 127 -50.8 128 -49.6 130 -48.9 131 -47.7 133 -48.2 134.7 -48.3 134 -47.2 133 -45 131.2 -44.9 131 -43.5 131 -42.9 130.6 -42.4 130.7 -42.3 133 -42 138 -44.5 141.2 -46 143 -46.2 150 -46 165 -52 180 -55 195 -60 195 -84 40 -84 35 -75 32 -71ZM19.6 -54.4 22.8 -54.4 21.3 -55.2 20 -55.3 19.5 -54.8Z"/><path id="cGEO" d="M40 -43.4 42 -43.2 43.5 -42.8 45 -42.6 46.4 -41.9 45.3 -41.4 45.1 -41.2 43.5 -41.1 42.8 -41.6 41.6 -41.5 41 -42.5Z"/><path id="cARM" d="M43.5 -41.1 45.1 -41.2 45.6 -40.6 46 -40.1 45.9 -39.6 46.5 -38.9 46.1 -38.9 45 -39.8 44.8 -39.7 43.7 -40.1 43.6 -40.9Z"/><path id="cAZE" d="M46.4 -41.9 47.5 -41.3 48.5 -41.8 50 -40.5 49.5 -38.5 48.9 -38.4 48 -38.9 47 -39.2 46.5 -38.9 45.9 -39.6 46 -40.1 45.6 -40.6 45.1 -41.2 45.3 -41.4Z"/><path id="cTUR" d="M26.1 -40.7 26.6 -41.2 26.3 -41.7 27 -42 28 -42 28.5 -42.5 41 -42 41.6 -41.5 42.8 -41.6 43.5 -41.1 43.6 -40.9 43.7 -40.1 44.8 -39.7 44.3 -38.4 44.8 -37.15 42.4 -37.1 40.7 -37.1 38 -36.8 36.6 -36.8 36.7 -36.2 35.9 -35.8 35 -36.3 32 -36.2 28 -36.3 26.5 -37.5 25.8 -39.5Z"/><path id="cCYP" d="M32 -34.4 35 -34.4 35 -35.9 32 -35.9Z"/><path id="cIRN" d="M44.8 -39.7 46.1 -38.9 46.5 -38.9 47 -39.2 48 -38.9 48.9 -38.4 50 -39 53.5 -38.5 53.9 -37.3 54 -37.4 55.5 -38 57.4 -38 59.2 -37.5 60.4 -36.6 61.1 -36.6 61.3 -35.6 60.5 -34.3 60.6 -33.5 60.8 -31.5 61.7 -31.4 60.9 -29.85 61.5 -29 62.8 -28.2 63.3 -27.2 63.2 -26.6 61.8 -26.2 61.6 -25.2 57.8 -25.2 56.8 -26.6 55.5 -26.4 52.5 -27.2 50.5 -29 48.7 -29.9 48 -30.5 47.7 -31 47.4 -32.4 46.1 -33 45.4 -33.9 45.6 -34.6 45.4 -35.9 45 -36.7 44.8 -37.15 44.3 -38.4Z"/><path id="cIRQ" d="M44.8 -37.15 42.4 -37.1 41.3 -36.5 41.2 -34.4 38.8 -33.4 39.2 -32.2 42 -31.1 44.7 -29.2 46.5 -29.1 47.7 -30.1 48 -29.95 48.7 -29.9 48 -30.5 47.7 -31 47.4 -32.4 46.1 -33 45.4 -33.9 45.6 -34.6 45.4 -35.9 45 -36.7Z"/><path id="cSYR" d="M35.9 -35.8 36.7 -36.2 36.6 -36.8 38 -36.8 40.7 -37.1 42.4 -37.1 41.3 -36.5 41.2 -34.4 38.8 -33.4 36.8 -32.3 35.8 -32.7 35.9 -33.4 36.6 -34.2 36 -34.6 35.5 -35.5Z"/><path id="cLBN" d="M36 -34.6 36.6 -34.2 35.9 -33.4 35.6 -33.3 35.1 -33.1 34.5 -33.5 35.5 -35Z"/><path id="cISR" d="M35.1 -33.1 35.6 -33.3 35.8 -32.7 35.5 -31.5 35.4 -30.5 34.95 -29.55 34.9 -29.5 34.2 -31.3 34 -31.5 34.5 -33.1Z"/><path id="cJOR" d="M35.8 -32.7 36.8 -32.3 38.8 -33.4 39.2 -32.2 37 -31.5 38 -30.5 37.5 -30 36.1 -29.2 35 -29.35 34.95 -29.55 35.4 -30.5 35.5 -31.5Z"/><path id="cSAU" d="M34.95 -29.35 36.1 -29.2 37.5 -30 38 -30.5 37 -31.5 39.2 -32.2 42 -31.1 44.7 -29.2 46.5 -29.1 47.4 -28.5 48.4 -28.5 50.3 -26.8 50.6 -25.5 50.8 -24.75 51.2 -24.6 51.5 -24.2 52.6 -22.9 55.2 -22.7 55.6 -22 55 -20 52 -19 49 -18.6 47.6 -17.5 46.4 -17.3 44.5 -17.4 43.3 -17.6 42.8 -16.4 42 -16.5 39 -21 37 -24.5 35 -27.8Z"/><path id="cKWT" d="M46.5 -29.1 47.7 -30.1 48 -29.95 48.6 -29.5 48.4 -28.5 47.4 -28.5Z"/><path id="cQAT" d="M50.8 -24.75 51.2 -24.6 51.8 -25.2 51.5 -26.3 50.9 -26.2Z"/><path id="cARE" d="M51.5 -24.2 52.6 -22.9 55.2 -22.7 55.8 -24 56 -24.8 56.4 -24.9 56.5 -25.6 56 -25.9 54 -25 52 -24.5Z"/><path id="cOMN" d="M55.2 -22.7 55.6 -22 55 -20 52 -19 52.8 -17.3 53.1 -16.65 57 -17 60 -22 59 -24 56.4 -24.9 56 -24.8 55.8 -24ZM56 -25.9 56.5 -25.6 56.6 -26.5 56.1 -26.4Z"/><path id="cYEM" d="M42.8 -16.4 43.3 -17.6 44.5 -17.4 46.4 -17.3 47.6 -17.5 49 -18.6 52 -19 52.8 -17.3 53.1 -16.65 53 -15 50 -13.5 45 -12.5 43.6 -12.6 42.8 -14 42.6 -15.5Z"/><path id="cKAZ" d="M49 -46.3 48.7 -47.1 47.3 -47.7 46.5 -48.4 47.1 -49.2 46.8 -49.9 48.6 -50.6 50.7 -51.6 52.3 -51.8 54.6 -51 55.7 -50.6 57.2 -51.1 58.6 -51.1 59.9 -50.8 61.4 -50.8 61.6 -52 60.3 -52.2 60.9 -52.8 61.7 -53.3 61 -53.9 62 -54 65.2 -54.6 68.2 -55 69.2 -55.4 70.8 -55.2 73.2 -53.9 73.6 -54 76.9 -54.4 76 -53.6 77.8 -53.3 80 -50.8 82 -50.8 83.4 -51 85 -50 86.8 -49.8 87.3 -49.1 85.5 -47.1 83 -47.2 82.3 -45.5 80.5 -45 80.1 -42.6 80.2 -42.2 79.2 -42.8 76 -42.9 74.2 -43.3 73.5 -42.5 71.1 -42.7 71 -42.3 69.1 -41.4 68 -40.9 66.5 -41.9 65.9 -43.2 64.9 -43.7 62 -43.5 61 -44.4 58.5 -45.6 56 -45 56 -41.3 54 -42.3 53 -42.1 52.5 -41.8 51 -43 50 -45.5Z"/><path id="cUZB" d="M71 -42.3 69.1 -41.4 68 -40.9 66.5 -41.9 65.9 -43.2 64.9 -43.7 62 -43.5 61 -44.4 58.5 -45.6 56 -45 56 -41.3 57 -41.3 58.6 -42.7 60 -42.2 60.5 -41.2 61.9 -41.1 62.4 -40 64.2 -38.9 65.6 -38.2 66.5 -37.35 67.8 -37.2 68.4 -38.2 67.8 -39 68.6 -39.5 69.3 -40.2 70.6 -40.4 72 -40.2 73 -40.6 71.8 -41.3 70.5 -41.5Z"/><path id="cTKM" d="M52.5 -41.8 53 -42.1 54 -42.3 56 -41.3 57 -41.3 58.6 -42.7 60 -42.2 60.5 -41.2 61.9 -41.1 62.4 -40 64.2 -38.9 65.6 -38.2 66.5 -37.35 65.7 -37.5 64.5 -36.3 63.2 -35.9 62.3 -35.3 61.3 -35.6 61.1 -36.6 60.4 -36.6 59.2 -37.5 57.4 -38 55.5 -38 54 -37.4 53.9 -37.3 52 -40Z"/><path id="cKGZ" d="M80.2 -42.2 79.2 -42.8 76 -42.9 74.2 -43.3 73.5 -42.5 71.1 -42.7 71 -42.3 70.5 -41.5 71.8 -41.3 73 -40.6 72 -40.2 70.6 -40.4 70 -39.6 73.6 -39.4 74.9 -40.4 76.5 -40.4 78.5 -41.5Z"/><path id="cTJK" d="M67.8 -37.2 68.4 -38.2 67.8 -39 68.6 -39.5 69.3 -40.2 70.6 -40.4 70 -39.6 73.6 -39.4 75 -38.5 74.9 -37.2 73.7 -37.4 71.5 -37.9 71.3 -36.9 70 -37.6 68 -37Z"/><path id="cAFG" d="M61.3 -35.6 62.3 -35.3 63.2 -35.9 64.5 -36.3 65.7 -37.5 66.5 -37.35 67.8 -37.2 68 -37 70 -37.6 71.3 -36.9 71.5 -37.9 73.7 -37.4 74.9 -37.2 74.5 -37 71.5 -36.5 71.2 -35 70 -34 69.5 -33 69.3 -31.9 68 -31.6 66.7 -31 66.3 -29.9 64 -29.4 62.5 -29.4 60.9 -29.85 61.7 -31.4 60.8 -31.5 60.6 -33.5 60.5 -34.3Z"/><path id="cPAK" d="M60.9 -29.85 62.5 -29.4 64 -29.4 66.3 -29.9 66.7 -31 68 -31.6 69.3 -31.9 69.5 -33 70 -34 71.2 -35 71.5 -36.5 74.5 -37 75.9 -36.6 77 -35.6 77.8 -35.5 76 -34.5 74.3 -34 74.4 -32.9 74.7 -32.5 74.6 -31.1 73.9 -30.4 72.9 -29.4 71.9 -27.9 70.3 -28 69.6 -27 70.1 -26.5 70.7 -25.7 69.6 -24.3 68.7 -23.9 68.2 -23.7 66 -22 61.6 -24 61.6 -25.2 61.8 -26.2 63.2 -26.6 63.3 -27.2 62.8 -28.2 61.5 -29Z"/><path id="cIND" d="M68.2 -23.7 68.7 -23.9 69.6 -24.3 70.7 -25.7 70.1 -26.5 69.6 -27 70.3 -28 71.9 -27.9 72.9 -29.4 73.9 -30.4 74.6 -31.1 74.7 -32.5 74.4 -32.9 74.3 -34 76 -34.5 77.8 -35.5 78.5 -34.6 79.5 -33 78.9 -32.4 79.2 -31 80.2 -30.6 80.05 -28.9 81 -28.4 83.5 -27.4 85 -26.9 86.5 -26.5 88 -26.4 88.2 -27 88.1 -27.9 88.9 -27.3 89.8 -28.2 91.7 -27.8 93 -28.7 94.5 -29.3 96 -29.4 97.3 -28.2 96 -27.3 95 -26 94.6 -25 94 -23.8 93.4 -23 93.2 -22.2 92.6 -22 92.3 -23.7 91.9 -24.2 92.4 -25 90 -25.2 89.8 -26 88.4 -26.5 88.1 -25.8 88.5 -24.7 88.9 -23.6 89 -22 89 -20 85 -17 80.5 -13 80 -10.4 79.1 -9 78.3 -8 77.3 -7.6 76 -8.5 72 -15 71 -19 69 -21 67.5 -23Z"/><path id="cNPL" d="M80.05 -28.9 80.5 -29.9 81.2 -30.3 82.5 -29.9 84 -29.2 85.5 -28.3 86.9 -28 88.1 -27.9 88.2 -27 88 -26.4 86.5 -26.5 85 -26.9 83.5 -27.4 81 -28.4Z"/><path id="cBGD" d="M89 -22 88.9 -23.6 88.5 -24.7 88.1 -25.8 88.4 -26.5 89.8 -26 90 -25.2 92.4 -25 91.9 -24.2 92.3 -23.7 92.6 -22 92.3 -20.8 90 -21 89 -21Z"/><path id="cLKA" d="M79.5 -10 82 -10 82 -5.8 79.5 -5.8Z"/><path id="cMMR" d="M92.3 -20.8 92.6 -22 93.2 -22.2 93.4 -23 94 -23.8 94.6 -25 95 -26 96 -27.3 97.3 -28.2 98.4 -27.5 98.7 -25.9 97.7 -24.8 97.6 -23.9 98.9 -24.1 99.5 -22.9 100.2 -21.9 101.15 -21.55 100.1 -20.4 98.9 -19.8 97.8 -18.6 98.9 -16.4 98.2 -15.2 99.1 -13.9 99.6 -11.8 98.7 -10 97 -10 95 -15 93.5 -18.5Z"/><path id="cTHA" d="M100.1 -20.4 100.6 -20 101.2 -19.6 101 -18.4 102.1 -18.2 103 -18 104 -17.7 104.8 -16.5 105.6 -15.7 105.5 -14.3 103.5 -14.4 102.4 -13.6 102.4 -12.2 101 -11 102.1 -6.2 101 -5.8 100.2 -6.5 98 -8 98.7 -10 99.6 -11.8 99.1 -13.9 98.2 -15.2 98.9 -16.4 97.8 -18.6 98.9 -19.8Z"/><path id="cLAO" d="M100.1 -20.4 101.15 -21.55 101.8 -22.4 102.1 -22.4 102.9 -21.6 103.5 -20.9 104.6 -20.7 104 -20 104.9 -19.6 105.2 -18.8 106.5 -17.5 107.6 -15.9 107.5 -14.7 106.5 -14.5 105.5 -14.3 105.6 -15.7 104.8 -16.5 104 -17.7 103 -18 102.1 -18.2 101 -18.4 101.2 -19.6 100.6 -20Z"/><path id="cKHM" d="M102.4 -12.2 102.4 -13.6 103.5 -14.4 105.5 -14.3 106.5 -14.5 107.5 -14.7 107.6 -13.5 107.5 -12.3 106.4 -11.7 105.9 -11 105.1 -10.9 104.5 -10.4 103 -10 102.5 -11.5Z"/><path id="cVNM" d="M108 -21.55 106.7 -22 106.5 -22.9 105.3 -23.3 103.9 -22.5 102.1 -22.4 102.9 -21.6 103.5 -20.9 104.6 -20.7 104 -20 104.9 -19.6 105.2 -18.8 106.5 -17.5 107.6 -15.9 107.5 -14.7 107.6 -13.5 107.5 -12.3 106.4 -11.7 105.9 -11 105.1 -10.9 104.5 -10.4 104 -8 107 -8 110 -12 109.5 -16 107.5 -18 108.3 -20.5Z"/><path id="cMYS" d="M100.2 -6.5 101 -5.8 102.1 -6.2 104 -3 104.5 -1.5 103.4 -1.2 101.4 -2.6 100.2 -4 100 -6.2ZM109.6 -1.9 110.5 -1.2 111.8 -1.1 112.5 -1.5 113.5 -1.3 114.6 -1.5 115 -2.6 115.6 -3.8 116 -4.3 117.6 -4.2 119.5 -5 117 -7.5 113.5 -4.8 110 -2.5Z"/><path id="cIDN" d="M94 -6 97 -6 101.4 -2.2 104.8 -0.5 108.8 -2 109.6 -1.9 110.5 -1.2 111.8 -1.1 112.5 -1.5 113.5 -1.3 114.6 -1.5 115 -2.6 115.6 -3.8 116 -4.3 117.6 -4.2 119 -4 122 -2.2 127 -3 129 -3 131 0 141 2.6 141 9.5 127 10 124.5 10.5 118 11 105 7.5 94 -2Z"/><path id="cPNG" d="M141 2.6 141 9.5 143 10 151 11.5 156 7 155 5 153 3 150 1.5 147 1.5 143 2.5Z"/><path id="cPHL" d="M116.7 -8.1 118.5 -6.3 120 -5 123 -4.5 126.8 -6 126.8 -9.5 125.5 -12.5 124.5 -14 122.5 -19 120.5 -19 119.5 -16 120 -12 118 -10 116.5 -8.3Z"/><path id="cCHN" d="M87.3 -49.1 85.5 -47.1 83 -47.2 82.3 -45.5 80.5 -45 80.1 -42.6 80.2 -42.2 78.5 -41.5 76.5 -40.4 74.9 -40.4 73.6 -39.4 75 -38.5 74.9 -37.2 74.5 -37 75.9 -36.6 77 -35.6 77.8 -35.5 78.5 -34.6 79.5 -33 78.9 -32.4 79.2 -31 80.2 -30.6 81.2 -30.3 82.5 -29.9 84 -29.2 85.5 -28.3 86.9 -28 88.1 -27.9 88.9 -27.3 89.8 -28.2 91.7 -27.8 93 -28.7 94.5 -29.3 96 -29.4 97.3 -28.2 98.4 -27.5 98.7 -25.9 97.7 -24.8 97.6 -23.9 98.9 -24.1 99.5 -22.9 100.2 -21.9 101.15 -21.55 101.8 -22.4 102.1 -22.4 103.9 -22.5 105.3 -23.3 106.5 -22.9 106.7 -22 108 -21.55 108.3 -20.5 108 -19.5 109 -17.8 111.5 -17.8 112 -19 114 -21.5 117 -22.8 119.5 -24.8 120.5 -26.5 123 -29 123 -32 123.5 -37.5 124.3 -39.9 125.3 -40.6 126.8 -41.7 128.1 -41.4 128.3 -42 129.7 -42.4 130.6 -42.4 131 -42.9 131 -43.5 131.2 -44.9 133 -45 134 -47.2 134.7 -48.3 133 -48.2 131 -47.7 130 -48.9 128 -49.6 127 -50.8 125.5 -53 123.5 -53.5 121 -53.3 120 -51.5 119.1 -50 117.8 -49.5 116.7 -49.8 115.5 -48.2 117.8 -47.9 119.7 -47 119 -46.4 117.4 -46.6 115.5 -45.5 113.5 -44.8 111.8 -45.1 111 -44.4 111.8 -43.6 110.4 -42.8 107.5 -42.4 105 -41.6 103 -42 100.8 -42.6 96.4 -42.7 95.3 -44.2 93.5 -45 90.9 -45.3 90.7 -46.4 91 -47 90.2 -47.9 88.8 -48.1 87.8 -49.2Z"/><path id="cMNG" d="M87.8 -49.2 90 -50.1 92 -50.8 94 -50.5 96 -50 97.8 -51.5 98.9 -52.1 100 -51.7 102 -51.3 103 -50.4 105 -50.4 106.9 -50.3 108 -49.5 110 -49.2 112 -49.5 114.5 -50.2 116.7 -49.8 115.5 -48.2 117.8 -47.9 119.7 -47 119 -46.4 117.4 -46.6 115.5 -45.5 113.5 -44.8 111.8 -45.1 111 -44.4 111.8 -43.6 110.4 -42.8 107.5 -42.4 105 -41.6 103 -42 100.8 -42.6 96.4 -42.7 95.3 -44.2 93.5 -45 90.9 -45.3 90.7 -46.4 91 -47 90.2 -47.9 88.8 -48.1Z"/><path id="cPRK" d="M124.3 -39.9 125.3 -40.6 126.8 -41.7 128.1 -41.4 128.3 -42 129.7 -42.4 130.6 -42.4 130.7 -42.3 131 -41 128.6 -38.6 128.4 -38.6 127 -38.2 126.1 -37.7 124 -38 124 -39.5Z"/><path id="cKOR" d="M126.1 -37.7 127 -38.2 128.4 -38.6 128.6 -38.6 130 -37 129.8 -35 128 -34 126 -33.8 125.5 -35 125.8 -37Z"/><path id="cJPN" d="M129.3 -34.5 130.5 -31 131.5 -30.5 135 -33 140 -34.5 142.5 -38 142 -41 146 -43 145.5 -44.5 142 -45.8 141 -45.5 139.5 -42 139.5 -40 138 -37.8 136 -37.5 133 -36 131 -35Z"/><path id="cTWN" d="M120 -22 122.5 -22 122.5 -25.5 120 -25.5Z"/><path id="cMAR" d="M-2.2 -35.1 -1.8 -34.5 -1.7 -33.2 -1.1 -32.3 -2.9 -31.9 -3.7 -31.6 -5.3 -30 -7.8 -29.4 -8.7 -28.7 -8.67 -27.67 -13.2 -27.67 -15 -28 -11 -33 -6.5 -35.9 -5.3 -35.85 -3 -35.4Z"/><path id="cESH" d="M-8.67 -27.67 -8.67 -27.3 -8.67 -26 -12 -26 -12 -23.45 -13.1 -22.9 -13 -21.33 -16.9 -21.33 -17.05 -20.77 -18 -21 -15 -27.67Z"/><path id="cMRT" d="M-8.67 -27.3 -4.83 -25 -6.5 -24.95 -5.5 -16.4 -6 -15.5 -9.4 -15.5 -10.7 -15.1 -11.5 -15.5 -12.2 -14.7 -13 -15.6 -14.3 -16.6 -16.5 -16.1 -18 -17 -18 -21 -17.05 -20.77 -16.9 -21.33 -13 -21.33 -13.1 -22.9 -12 -23.45 -12 -26 -8.67 -26Z"/><path id="cDZA" d="M-2.2 -35.1 -1.8 -34.5 -1.7 -33.2 -1.1 -32.3 -2.9 -31.9 -3.7 -31.6 -5.3 -30 -7.8 -29.4 -8.7 -28.7 -8.67 -27.67 -8.67 -27.3 -4.83 -25 1.2 -21.1 1.8 -20.3 3.2 -19.8 3.3 -19 4.25 -19.15 5.8 -19.4 7.5 -20.9 12 -23.5 11.5 -24.3 10.2 -24.8 9.5 -26.4 9.9 -27.3 9.7 -28 9.9 -29.5 9.5 -30.2 8.5 -32.4 7.6 -33.2 8.3 -34.6 8.4 -35.7 8.6 -36.9 8.6 -38 0 -37 -2.2 -35.6Z"/><path id="cTUN" d="M8.6 -36.9 8.4 -35.7 8.3 -34.6 7.6 -33.2 8.5 -32.4 9.5 -30.2 10.2 -30.8 10 -31.5 11.5 -33.1 12 -34 11.5 -37.5 9 -37.8Z"/><path id="cLBY" d="M9.5 -30.2 10.2 -30.8 10 -31.5 11.5 -33.1 15 -33.5 20 -33.5 25.15 -31.65 24.8 -30 25 -22 25 -20 24 -20 24 -19.5 15.99 -23.45 14.2 -22.6 13.5 -23.2 12 -23.5 11.5 -24.3 10.2 -24.8 9.5 -26.4 9.9 -27.3 9.7 -28 9.9 -29.5Z"/><path id="cEGY" d="M25.15 -31.65 24.8 -30 25 -22 31.4 -22 33.2 -22 36.9 -22 37 -22 35 -24 34.6 -27.9 34.9 -29.5 34.2 -31.3 34 -33 25 -33Z"/><path id="cSDN" d="M25 -22 31.4 -22 33.2 -22 36.9 -22 38.6 -18 37 -17.1 36.45 -14.4 36.1 -12.7 35.3 -12 34.8 -10.8 34.3 -10.6 34.1 -9.5 33.2 -10.7 32.9 -12.2 32 -12 30 -10.3 28 -9.4 26.7 -9.5 25 -10.3 23.7 -8.7 22.9 -10.9 22.5 -12.6 22 -13.4 22.2 -14 22.8 -15.5 23.8 -15.8 24 -19.5 24 -20 25 -20Z"/><path id="cSSD" d="M34.1 -9.5 33.2 -10.7 32.9 -12.2 32 -12 30 -10.3 28 -9.4 26.7 -9.5 25 -10.3 23.7 -8.7 24.5 -8.2 25.3 -7.5 26.4 -6.5 27.45 -5 28.5 -4.3 29.6 -4.6 30.8 -3.5 32 -3.6 33.5 -3.8 34 -4.2 35.3 -5 34 -6.5 33 -7.8 33.2 -8.4 34.1 -8.6Z"/><path id="cERI" d="M38.6 -18 37 -17.1 36.45 -14.4 37.5 -14.3 38.4 -14.5 39 -14.6 40 -14.4 41 -13.5 41.7 -13 42.4 -12.47 43.1 -12.7 42.3 -14 40.5 -16 39 -18.5Z"/><path id="cDJI" d="M42.4 -12.47 43.1 -12.7 43.6 -12 43.25 -11.45 42.9 -10.98 42.3 -11 41.8 -11.6Z"/><path id="cETH" d="M36.45 -14.4 37.5 -14.3 38.4 -14.5 39 -14.6 40 -14.4 41 -13.5 41.7 -13 42.4 -12.47 41.8 -11.6 42.3 -11 42.9 -10.98 43.3 -9.6 44 -9 46 -8 48 -8 45 -5 43.5 -4.8 41.9 -3.98 40.8 -4.3 39.9 -3.5 38.7 -3.6 37 -4.4 35.9 -4.6 35.3 -5 34 -6.5 33 -7.8 33.2 -8.4 34.1 -8.6 34.1 -9.5 34.3 -10.6 34.8 -10.8 35.3 -12 36.1 -12.7Z"/><path id="cSOM" d="M43.25 -11.45 42.9 -10.98 43.3 -9.6 44 -9 46 -8 48 -8 45 -5 43.5 -4.8 41.9 -3.98 41 -2.8 41 0.9 41.6 1.7 45 2 52 -11 51 -12.3 44 -11.5Z"/><path id="cKEN" d="M41.9 -3.98 41 -2.8 41 0.9 41.6 1.7 42 3 39.2 4.67 37.7 3.5 37.6 3 34 1 33.9 -0.1 34.5 -1.1 35 -1.9 34.9 -2.5 34.4 -3.7 34 -4.2 35.3 -5 35.9 -4.6 37 -4.4 38.7 -3.6 39.9 -3.5 40.8 -4.3Z"/><path id="cUGA" d="M30.8 -3.5 32 -3.6 33.5 -3.8 34 -4.2 34.4 -3.7 34.9 -2.5 35 -1.9 34.5 -1.1 33.9 -0.1 34 1 30.8 1 29.6 1.4 29.6 0.5 29.9 -0.7 30.2 -1.2 31.3 -2.2 30.9 -2.5Z"/><path id="cRWA" d="M29.6 1.4 30.8 1 30.9 2.4 29.9 2.7 29 2.8 29.2 2.1Z"/><path id="cBDI" d="M29 2.8 29.9 2.7 30.9 2.4 30.5 3.5 29.6 4.5 29.2 3.3Z"/><path id="cTZA" d="M39.2 4.67 37.7 3.5 37.6 3 34 1 30.8 1 30.9 2.4 30.5 3.5 29.6 4.5 29.4 6 30.7 8.3 32.9 9.4 33.9 9.7 34.6 11.6 36.5 11.7 38.5 11.4 40.45 10.47 42 8 42 4Z"/><path id="cCOD" d="M27.45 -5 26 -5.1 25.2 -5 24.4 -5.1 23 -4.7 22.5 -4.2 20.6 -4.4 19.5 -5.1 18.6 -4.3 18.5 -3.6 17.9 -1 17.8 0.3 16.4 1.8 16.2 2.3 15.9 3.7 15.3 4.3 14.4 4.9 13.1 4.6 12.8 5 12.5 5.75 11.5 5.8 11.5 6.05 12.2 6 13 5.9 16.3 5.9 16.9 7.2 17.6 8.1 19.4 8 19.4 7.2 21.8 7.3 21.8 9.5 22.2 11 24 10.9 24.4 11.5 25.3 11.2 26.5 11.9 27.2 11.6 28 12.4 29 13.4 29.8 13.4 29.8 12.2 28.5 10 28.7 8.6 30.7 8.3 29.4 6 29.6 4.5 29.2 3.3 29 2.8 29.2 2.1 29.6 1.4 29.6 0.5 29.9 -0.7 30.2 -1.2 31.3 -2.2 30.9 -2.5 30.8 -3.5 29.6 -4.6 28.5 -4.3Z"/><path id="cCOG" d="M18.5 -3.6 17.9 -1 17.8 0.3 16.4 1.8 16.2 2.3 15.9 3.7 15.3 4.3 14.4 4.9 13.1 4.6 12.6 4.4 11.9 5 11 4.5 11.1 3.9 11.8 3 11.6 2.4 13 2.3 13.8 2.5 14.4 2 14.3 0.5 13.9 -0.2 14.5 -0.9 14.1 -1.4 13.3 -1.3 13.3 -2.2 14.6 -2.2 15.9 -2 16.2 -2.2 16.6 -3.5Z"/><path id="cGAB" d="M11.1 3.9 11.8 3 11.6 2.4 13 2.3 13.8 2.5 14.4 2 14.3 0.5 13.9 -0.2 14.5 -0.9 14.1 -1.4 13.3 -1.3 13.3 -2.2 11.3 -2.2 11.3 -1 9.8 -1 8 -1 8 2 10.5 4.5Z"/><path id="cGNQ" d="M11.3 -2.2 11.3 -1 9.8 -1 9 -1.5 9.8 -2.35Z"/><path id="cCMR" d="M9.8 -2.35 11.3 -2.2 13.3 -2.2 14.6 -2.2 15.9 -2 16.2 -2.2 15 -4 14.7 -5 14.5 -6.2 15.5 -7.5 14.4 -8 13.9 -9.5 15.6 -10 15 -10.9 15 -12 14.2 -13.1 14.6 -11.5 13.6 -10.1 12.8 -8.7 11.8 -7 11 -6.5 10.1 -6.9 9.4 -6.4 8.7 -4.8 8.5 -3 9.5 -2Z"/><path id="cCAF" d="M15.5 -7.5 14.5 -6.2 14.7 -5 15 -4 16.2 -2.2 16.6 -3.5 18.5 -3.6 18.6 -4.3 19.5 -5.1 20.6 -4.4 22.5 -4.2 23 -4.7 24.4 -5.1 25.2 -5 26 -5.1 27.45 -5 26.4 -6.5 25.3 -7.5 24.5 -8.2 23.7 -8.7 22.9 -10.9 21.7 -10.6 20.1 -9.1 18.9 -8.9 18.6 -8 16.7 -7.5Z"/><path id="cTCD" d="M15.99 -23.45 24 -19.5 23.8 -15.8 22.8 -15.5 22.2 -14 22 -13.4 22.5 -12.6 22.9 -10.9 21.7 -10.6 20.1 -9.1 18.9 -8.9 18.6 -8 16.7 -7.5 15.5 -7.5 14.4 -8 13.9 -9.5 15.6 -10 15 -10.9 15 -12 14.2 -13.1 13.6 -13.7 15.3 -15.4 15.5 -16.9 15.9 -20.4Z"/><path id="cNER" d="M4.25 -19.15 5.8 -19.4 7.5 -20.9 12 -23.5 13.5 -23.2 14.2 -22.6 15.99 -23.45 15.9 -20.4 15.5 -16.9 15.3 -15.4 13.6 -13.7 12.3 -13.1 10 -13.3 8 -13.2 6.8 -13.6 5.3 -13.8 4.1 -13.5 3.6 -11.7 2.8 -12.3 2.4 -12 2.1 -12.7 0.9 -13 0.4 -14 0.23 -14.99 1.3 -15.3 3.5 -15.4 4 -16.5Z"/><path id="cMLI" d="M-4.83 -25 1.2 -21.1 1.8 -20.3 3.2 -19.8 3.3 -19 4.25 -19.15 4 -16.5 3.5 -15.4 1.3 -15.3 0.23 -14.99 -0.7 -15.1 -2 -14.2 -3 -13.6 -4.3 -13.2 -4.6 -12.7 -5.3 -11.8 -5.5 -10.4 -6.2 -10.2 -7.5 -10.4 -8.2 -10.1 -8.5 -11.3 -9.2 -12.3 -10.7 -11.9 -11.37 -12.41 -11.6 -13.4 -12.2 -14.7 -11.5 -15.5 -10.7 -15.1 -9.4 -15.5 -6 -15.5 -5.5 -16.4 -6.5 -24.95Z"/><path id="cBFA" d="M0.23 -14.99 0.4 -14 0.9 -13 2.1 -12.7 2.4 -12 1.4 -11.3 0.9 -11 0 -11.1 -0.7 -10.95 -2.8 -11 -2.7 -9.5 -3.6 -9.9 -4.7 -9.7 -5.5 -10.4 -5.3 -11.8 -4.6 -12.7 -4.3 -13.2 -3 -13.6 -2 -14.2 -0.7 -15.1Z"/><path id="cSEN" d="M-12.2 -14.7 -11.6 -13.4 -11.37 -12.41 -12.4 -12.4 -13.7 -12.67 -15.2 -12.7 -16.7 -12.35 -18 -12 -18 -15 -16.5 -16.1 -14.3 -16.6 -13 -15.6Z"/><path id="cGMB" d="M-17 -13.2 -13.8 -13.6 -13.8 -13.3 -16.5 -13.1 -17 -13Z"/><path id="cGNB" d="M-13.7 -12.67 -15.2 -12.7 -16.7 -12.35 -17 -11 -15 -10.8 -15 -10.9 -13.7 -11.7Z"/><path id="cGIN" d="M-11.37 -12.41 -12.4 -12.4 -13.7 -12.67 -13.7 -11.7 -15 -10.9 -15.5 -10 -13.3 -9.05 -12.5 -9.9 -11.2 -10 -10.7 -9.3 -10.27 -8.49 -9.5 -8.4 -9.4 -7.4 -8.47 -7.56 -7.9 -8.4 -8.2 -9.5 -8.2 -10.1 -8.5 -11.3 -9.2 -12.3 -10.7 -11.9Z"/><path id="cSLE" d="M-13.3 -9.05 -12.5 -9.9 -11.2 -10 -10.7 -9.3 -10.27 -8.49 -10.6 -8 -11.5 -6.9 -13.5 -7 -14 -8.5Z"/><path id="cLBR" d="M-11.5 -6.9 -10.6 -8 -10.27 -8.49 -9.5 -8.4 -9.4 -7.4 -8.47 -7.56 -8.2 -6.3 -7.5 -5.2 -7.5 -4.35 -9 -4 -12 -6.5Z"/><path id="cCIV" d="M-7.5 -4.35 -7.5 -5.2 -8.2 -6.3 -8.47 -7.56 -7.9 -8.4 -8.2 -9.5 -8.2 -10.1 -7.5 -10.4 -6.2 -10.2 -5.5 -10.4 -4.7 -9.7 -3.6 -9.9 -2.7 -9.5 -2.5 -8.2 -3.2 -6.3 -2.9 -5.1 -3 -4 -7.5 -3.8Z"/><path id="cGHA" d="M-2.9 -5.1 -3.2 -6.3 -2.5 -8.2 -2.7 -9.5 -2.8 -11 -0.7 -10.95 0 -11.1 0.4 -10.3 0.2 -8.5 0.6 -7 1.2 -6.1 1 -4 -3 -4Z"/><path id="cTGO" d="M1.2 -6.1 0.6 -7 0.2 -8.5 0.4 -10.3 0 -11.1 0.9 -11 0.8 -10.4 1.4 -9.4 1.6 -6.9 1.6 -6.2 1.5 -5.5Z"/><path id="cBEN" d="M1.6 -6.2 1.6 -6.9 1.4 -9.4 0.8 -10.4 0.9 -11 1.4 -11.3 2.4 -12 2.8 -12.3 3.6 -11.7 3.8 -10.5 2.8 -9.1 2.7 -6.4 2.5 -5.5Z"/><path id="cNGA" d="M2.7 -6.4 2.8 -9.1 3.8 -10.5 3.6 -11.7 4.1 -13.5 5.3 -13.8 6.8 -13.6 8 -13.2 10 -13.3 12.3 -13.1 13.6 -13.7 14.2 -13.1 14.6 -11.5 13.6 -10.1 12.8 -8.7 11.8 -7 11 -6.5 10.1 -6.9 9.4 -6.4 8.7 -4.8 7 -3.5 3 -5.5Z"/><path id="cAGO" d="M12.2 6 13 5.9 16.3 5.9 16.9 7.2 17.6 8.1 19.4 8 19.4 7.2 21.8 7.3 21.8 9.5 22.2 11 24 10.9 24 13 22 13 22 16.2 23.4 17.6 21 18 19.5 17.9 18.4 17.4 13.9 17.4 11.75 17.25 10 12 11.5 6.1ZM11.9 5 12.6 4.4 13.1 4.6 12.8 5 12.5 5.75 11.5 5.8 11.5 4.8Z"/><path id="cZMB" d="M24 10.9 24.4 11.5 25.3 11.2 26.5 11.9 27.2 11.6 28 12.4 29 13.4 29.8 13.4 29.8 12.2 28.5 10 28.7 8.6 30.7 8.3 32.9 9.4 33.3 10.5 33.2 12 33 13 32.7 13.6 33 14 30.4 15.6 29 16 28 16.8 26.7 17.9 25.26 17.79 24.2 17.5 23.4 17.6 22 16.2 22 13 24 13Z"/><path id="cMWI" d="M32.9 9.4 33.9 9.7 34.6 11.6 34.6 13.5 35.3 14.3 35.9 14.9 35.8 16.1 35.3 17.1 34.3 16.4 34.5 15.5 33.2 14 33 14 32.7 13.6 33 13 33.2 12 33.3 10.5Z"/><path id="cMOZ" d="M40.45 10.47 38.5 11.4 36.5 11.7 34.6 11.6 34.6 13.5 35.3 14.3 35.9 14.9 35.8 16.1 35.3 17.1 34.3 16.4 34.5 15.5 33.2 14 33 14 30.4 15.6 30.4 16 32.9 16.7 32.9 18.5 32.7 19 33 19.9 32.5 21 31.3 22.4 31.9 24.4 32 25.8 32.9 26.85 36 25 37 20 42 15 42 10.5Z"/><path id="cZWE" d="M30.4 15.6 29 16 28 16.8 26.7 17.9 25.26 17.79 26.2 19.6 27.3 20.5 28 21.6 29.4 22.1 31.3 22.4 32.5 21 33 19.9 32.7 19 32.9 18.5 32.9 16.7 30.4 16Z"/><path id="cNAM" d="M11.75 17.25 13.9 17.4 18.4 17.4 19.5 17.9 21 18 23.4 17.6 24.2 17.5 25.26 17.79 24 18 21 18.3 21 22 20 22 20 24.77 20 28.4 19 28.9 16.5 28.6 12 25 10 17Z"/><path id="cBWA" d="M25.26 17.79 26.2 19.6 27.3 20.5 28 21.6 29.4 22.1 28 22.6 27 23.6 26 24.6 25.5 25.6 24 25.6 22.8 25.3 21.7 26.8 20.7 26.8 20 24.77 20 22 21 22 21 18.3 24 18Z"/><path id="cZAF" d="M16.5 28.6 19 28.9 20 28.4 20 24.77 20.7 26.8 21.7 26.8 22.8 25.3 24 25.6 25.5 25.6 26 24.6 27 23.6 28 22.6 29.4 22.1 31.3 22.4 31.9 24.4 32 25.8 32.9 26.85 34 28 32 33 26 36 18 36 15 30Z"/><path id="cLSO" d="M27 29.6 28 28.7 29.4 29 29.2 30 28.1 30.6 27.3 30.3Z"/><path id="cSWZ" d="M30.8 26 31.3 25.7 32 26 32.1 26.8 31.3 27.3 30.8 26.8Z"/><path id="cMDG" d="M42 11 52 11 52 27 42 27Z"/><path id="cAUS" d="M110 9.8 142.6 9.8 155 20 155 45 110 45Z"/><path id="cNZL" d="M165 33 180 33 180 48 165 48Z"/><path id="cNCL" d="M163 19.5 168 19.5 168 23 163 23Z"/><path id="cFJI" d="M176 16 180 16 180 19 176 19Z"/><path id="cSLB" d="M155.5 6.5 163 6.5 163 11 155.5 11Z"/><path id="cVUT" d="M166 14 169 14 169 18 166 18Z"/><g id="borders" clip-path="url(#lc)" fill="none"><use href="#cUSA"/><use href="#cALA"/><use href="#cCAN"/><use href="#cMEX"/><use href="#cGTM"/><use href="#cBLZ"/><use href="#cSLV"/><use href="#cHND"/><use href="#cNIC"/><use href="#cCRI"/><use href="#cPAN"/><use href="#cCUB"/><use href="#cHTI"/><use href="#cDOM"/><use href="#cJAM"/><use href="#cPRI"/><use href="#cCOL"/><use href="#cVEN"/><use href="#cGUY"/><use href="#cSUR"/><use href="#cGUF"/><use href="#cECU"/><use href="#cPER"/><use href="#cBOL"/><use href="#cPRY"/><use href="#cURY"/><use href="#cCHL"/><use href="#cARG"/><use href="#cBRA"/><use href="#cISL"/><use href="#cGBR"/><use href="#cIRL"/><use href="#cNOR"/><use href="#cSJM"/><use href="#cSWE"/><use href="#cFIN"/><use href="#cDNK"/><use href="#cDEU"/><use href="#cNLD"/><use href="#cBEL"/><use href="#cFRA"/><use href="#cESP"/><use href="#cPRT"/><use href="#cCHE"/><use href="#cAUT"/><use href="#cITA"/><use href="#cPOL"/><use href="#cCZE"/><use href="#cSVK"/><use href="#cHUN"/><use href="#cSVN"/><use href="#cHRV"/><use href="#cBIH"/><use href="#cSRB"/><use href="#cMNE"/><use href="#cALB"/><use href="#cMKD"/><use href="#cGRC"/><use href="#cBGR"/><use href="#cROU"/><use href="#cMDA"/><use href="#cUKR"/><use href="#cBLR"/><use href="#cLTU"/><use href="#cLVA"/><use href="#cEST"/><use href="#cRUS"/><use href="#cGEO"/><use href="#cARM"/><use href="#cAZE"/><use href="#cTUR"/><use href="#cCYP"/><use href="#cIRN"/><use href="#cIRQ"/><use href="#cSYR"/><use href="#cLBN"/><use href="#cISR"/><use href="#cJOR"/><use href="#cSAU"/><use href="#cKWT"/><use href="#cQAT"/><use href="#cARE"/><use href="#cOMN"/><use href="#cYEM"/><use href="#cKAZ"/><use href="#cUZB"/><use href="#cTKM"/><use href="#cKGZ"/><use href="#cTJK"/><use href="#cAFG"/><use href="#cPAK"/><use href="#cIND"/><use href="#cNPL"/><use href="#cBGD"/><use href="#cLKA"/><use href="#cMMR"/><use href="#cTHA"/><use href="#cLAO"/><use href="#cKHM"/><use href="#cVNM"/><use href="#cMYS"/><use href="#cIDN"/><use href="#cPNG"/><use href="#cPHL"/><use href="#cCHN"/><use href="#cMNG"/><use href="#cPRK"/><use href="#cKOR"/><use href="#cJPN"/><use href="#cTWN"/><use href="#cMAR"/><use href="#cESH"/><use href="#cMRT"/><use href="#cDZA"/><use href="#cTUN"/><use href="#cLBY"/><use href="#cEGY"/><use href="#cSDN"/><use href="#cSSD"/><use href="#cERI"/><use href="#cDJI"/><use href="#cETH"/><use href="#cSOM"/><use href="#cKEN"/><use href="#cUGA"/><use href="#cRWA"/><use href="#cBDI"/><use href="#cTZA"/><use href="#cCOD"/><use href="#cCOG"/><use href="#cGAB"/><use href="#cGNQ"/><use href="#cCMR"/><use href="#cCAF"/><use href="#cTCD"/><use href="#cNER"/><use href="#cMLI"/><use href="#cBFA"/><use href="#cSEN"/><use href="#cGMB"/><use href="#cGNB"/><use href="#cGIN"/><use href="#cSLE"/><use href="#cLBR"/><use href="#cCIV"/><use href="#cGHA"/><use href="#cTGO"/><use href="#cBEN"/><use href="#cNGA"/><use href="#cAGO"/><use href="#cZMB"/><use href="#cMWI"/><use href="#cMOZ"/><use href="#cZWE"/><use href="#cNAM"/><use href="#cBWA"/><use href="#cZAF"/><use href="#cLSO"/><use href="#cSWZ"/><use href="#cMDG"/><use href="#cAUS"/><use href="#cNZL"/><use href="#cNCL"/><use href="#cFJI"/><use href="#cSLB"/><use href="#cVUT"/></g></defs></svg>

<svg class="m" style="left:19.26px;top:7.24px;width:170.38px;height:47.23px" viewBox="-180 -84 372 141" preserveAspectRatio="none"><use href="#land" fill="#eff6fc"/><g clip-path="url(#lc)"><use href="#cCAN" fill="#acd0e6"/><use href="#cUSA" fill="#acd0e6"/><use href="#cSAU" fill="#6baed6"/><use href="#cOMN" fill="#2e7ebc"/><use href="#cARE" fill="#4a98c9"/><use href="#cYEM" fill="#a6cde4"/><use href="#cAUS" fill="#acd0e6"/><use href="#cCHL" fill="#d9e8f5"/><use href="#cMEX" fill="#f3f8fe"/><use href="#cJPN" fill="#f7fbff"/><use href="#cALA" fill="#acd0e6"/><use href="#cSJM" fill="#f1f7fd"/></g><use href="#arc" fill="#d4d6d8" fill-opacity="0.6"/><use href="#borders" stroke="#cdcdcd" stroke-width="0.3"/><use href="#land" fill="none" stroke="#a8a8a8" stroke-width="0.3"/></svg>
<svg class="m" style="left:214.30px;top:7.24px;width:171.49px;height:47.23px" viewBox="-180 -84 372 141" preserveAspectRatio="none"><use href="#land" fill="#fee1d3"/><g clip-path="url(#lc)"><use href="#cMEX" fill="#fc9070"/><use href="#cGTM" fill="#fc8a6a"/><use href="#cBLZ" fill="#fcab8e"/><use href="#cHND" fill="#fdcab5"/><use href="#cSLV" fill="#fdcab5"/><use href="#cNIC" fill="#fed9c8"/><use href="#cCRI" fill="#fee4d8"/><use href="#cPAN" fill="#fee4d8"/><use href="#cCUB" fill="#fff5f0"/><use href="#cHTI" fill="#fff5f0"/><use href="#cDOM" fill="#fff5f0"/><use href="#cJAM" fill="#fff5f0"/><use href="#cPRI" fill="#fff5f0"/><use href="#cSUR" fill="#800610"/><use href="#cGUF" fill="#fcab8e"/><use href="#cGUY" fill="#fcab8e"/><use href="#cCOL" fill="#fcab8e"/><use href="#cVEN" fill="#fcab8e"/><use href="#cBRA" fill="#fed9c8"/><use href="#cPER" fill="#fed9c8"/><use href="#cECU" fill="#fdcab5"/><use href="#cBOL" fill="#fee1d3"/><use href="#cARG" fill="#fed9c8"/><use href="#cCHL" fill="#fee4d8"/><use href="#cRUS" fill="#fee4d8"/><use href="#cCHN" fill="#fee1d3"/><use href="#cMNG" fill="#fee4d8"/><use href="#cKAZ" fill="#fee4d8"/><use href="#cAUS" fill="#fedccc"/><use href="#cIDN" fill="#ffeee6"/><use href="#cPHL" fill="#fff0e9"/><use href="#cJPN" fill="#fff0e9"/><use href="#cPNG" fill="#ffede4"/><use href="#cMYS" fill="#fee8dd"/><use href="#cNZL" fill="#ffede4"/><use href="#cCAN" fill="#fee1d3"/><use href="#cUSA" fill="#fedfd0"/><use href="#cGBR" fill="#fee9df"/><use href="#cIRL" fill="#fee9df"/><use href="#cFRA" fill="#fee9df"/><use href="#cDEU" fill="#fee9df"/><use href="#cNLD" fill="#fee9df"/><use href="#cBEL" fill="#fee9df"/><use href="#cCHE" fill="#fee9df"/><use href="#cAUT" fill="#fee9df"/><use href="#cITA" fill="#fee9df"/><use href="#cESP" fill="#fee9df"/><use href="#cPRT" fill="#fee9df"/><use href="#cPOL" fill="#fee9df"/><use href="#cCZE" fill="#fee9df"/><use href="#cSVK" fill="#fee9df"/><use href="#cHUN" fill="#fee9df"/><use href="#cSVN" fill="#fee9df"/><use href="#cHRV" fill="#fee9df"/><use href="#cBIH" fill="#fee9df"/><use href="#cSRB" fill="#fee9df"/><use href="#cMNE" fill="#fee9df"/><use href="#cALB" fill="#fee9df"/><use href="#cMKD" fill="#fee9df"/><use href="#cGRC" fill="#fee9df"/><use href="#cBGR" fill="#fee9df"/><use href="#cROU" fill="#fee9df"/><use href="#cMDA" fill="#fee9df"/><use href="#cUKR" fill="#fee9df"/><use href="#cBLR" fill="#fee9df"/><use href="#cLTU" fill="#fee9df"/><use href="#cLVA" fill="#fee9df"/><use href="#cEST" fill="#fee9df"/><use href="#cDNK" fill="#fee9df"/><use href="#cNOR" fill="#fee9df"/><use href="#cSWE" fill="#fee9df"/><use href="#cFIN" fill="#fee9df"/><use href="#cISL" fill="#fee9df"/><use href="#cALA" fill="#fedfd0"/><use href="#cSJM" fill="#fff0e9"/></g><use href="#arc" fill="#d4d6d8" fill-opacity="0.6"/><use href="#borders" stroke="#cdcdcd" stroke-width="0.3"/><use href="#land" fill="none" stroke="#a8a8a8" stroke-width="0.3"/></svg>
<svg class="m" style="left:19.26px;top:99.25px;width:170.38px;height:77.97px" viewBox="-180 -84 372 141" preserveAspectRatio="none"><use href="#land" fill="#e9f2fb"/><g clip-path="url(#lc)"><use href="#cCAN" fill="#ccdff1"/><use href="#cUSA" fill="#ccdff1"/><use href="#cMEX" fill="#e3eef9"/><use href="#cSLV" fill="#083d7f"/><use href="#cSUR" fill="#08306b"/><use href="#cGUY" fill="#1764ab"/><use href="#cARG" fill="#b6d4e9"/><use href="#cCHL" fill="#bcd7ec"/><use href="#cURY" fill="#08306b"/><use href="#cBRA" fill="#f1f7fd"/><use href="#cCOL" fill="#dfecf7"/><use href="#cVEN" fill="#dfecf7"/><use href="#cPER" fill="#dfecf7"/><use href="#cBOL" fill="#dfecf7"/><use href="#cECU" fill="#dfecf7"/><use href="#cPRY" fill="#d9e8f5"/><use href="#cCUB" fill="#f7fbff"/><use href="#cISL" fill="#084a92"/><use href="#cNOR" fill="#b6d4e9"/><use href="#cSWE" fill="#8cc0dd"/><use href="#cFIN" fill="#94c4df"/><use href="#cGBR" fill="#a6cde4"/><use href="#cIRL" fill="#b6d4e9"/><use href="#cESP" fill="#b6d4e9"/><use href="#cPRT" fill="#b6d4e9"/><use href="#cFRA" fill="#ccdff1"/><use href="#cBIH" fill="#0d57a1"/><use href="#cMNE" fill="#0d57a1"/><use href="#cBGR" fill="#2e7ebc"/><use href="#cMKD" fill="#4a98c9"/><use href="#cDEU" fill="#d9e8f5"/><use href="#cITA" fill="#d9e8f5"/><use href="#cMLI" fill="#083d7f"/><use href="#cNER" fill="#083d7f"/><use href="#cGIN" fill="#084a92"/><use href="#cSLE" fill="#084a92"/><use href="#cTCD" fill="#e3eef9"/><use href="#cCAF" fill="#4a98c9"/><use href="#cETH" fill="#083d7f"/><use href="#cTZA" fill="#084a92"/><use href="#cMOZ" fill="#1764ab"/><use href="#cAGO" fill="#3b8bc3"/><use href="#cBWA" fill="#0d57a1"/><use href="#cKAZ" fill="#c6dbef"/><use href="#cMNG" fill="#94c4df"/><use href="#cTJK" fill="#b6d4e9"/><use href="#cUZB" fill="#b6d4e9"/><use href="#cOMN" fill="#0d57a1"/><use href="#cTHA" fill="#94c4df"/><use href="#cKHM" fill="#94c4df"/><use href="#cLKA" fill="#4a98c9"/><use href="#cPNG" fill="#084a92"/><use href="#cAUS" fill="#c6dbef"/><use href="#cJPN" fill="#f7fbff"/><use href="#cHND" fill="#2e7ebc"/><use href="#cALA" fill="#ccdff1"/><use href="#cSJM" fill="#f1f7fd"/></g><use href="#arc" fill="#d4d6d8" fill-opacity="0.6"/><use href="#borders" stroke="#cdcdcd" stroke-width="0.3"/><use href="#land" fill="none" stroke="#a8a8a8" stroke-width="0.3"/></svg>
<svg class="m" style="left:214.30px;top:99.25px;width:171.49px;height:77.97px" viewBox="-180 -84 372 141" preserveAspectRatio="none"><use href="#land" fill="#fedfd0"/><g clip-path="url(#lc)"><use href="#cCAN" fill="#fee4d8"/><use href="#cUSA" fill="#fee1d3"/><use href="#cMEX" fill="#fc9070"/><use href="#cGTM" fill="#fb7a5a"/><use href="#cBLZ" fill="#fc8a6a"/><use href="#cHND" fill="#fc8a6a"/><use href="#cSLV" fill="#fc8a6a"/><use href="#cNIC" fill="#fc8a6a"/><use href="#cCRI" fill="#fc9a7b"/><use href="#cPAN" fill="#fc9a7b"/><use href="#cCUB" fill="#ffede4"/><use href="#cHTI" fill="#fcab8e"/><use href="#cDOM" fill="#fdcab5"/><use href="#cCOL" fill="#fca487"/><use href="#cVEN" fill="#fca487"/><use href="#cGUY" fill="#d92623"/><use href="#cSUR" fill="#cb181d"/><use href="#cGUF" fill="#fc8a6a"/><use href="#cECU" fill="#fcab8e"/><use href="#cPER" fill="#fcab8e"/><use href="#cBRA" fill="#fcab8e"/><use href="#cBOL" fill="#fcc4ad"/><use href="#cPRY" fill="#fcbba1"/><use href="#cARG" fill="#fee1d3"/><use href="#cCHL" fill="#fee1d3"/><use href="#cURY" fill="#fdcab5"/><use href="#cMAR" fill="#fcc4ad"/><use href="#cDZA" fill="#fcc4ad"/><use href="#cTUN" fill="#fdcab5"/><use href="#cLBY" fill="#fdd0bc"/><use href="#cEGY" fill="#fdcab5"/><use href="#cESH" fill="#fdcab5"/><use href="#cMRT" fill="#fcb196"/><use href="#cMLI" fill="#fcb196"/><use href="#cNER" fill="#fcab8e"/><use href="#cTCD" fill="#fcab8e"/><use href="#cSDN" fill="#fdcab5"/><use href="#cSSD" fill="#fdcab5"/><use href="#cSEN" fill="#fcab8e"/><use href="#cGIN" fill="#fcab8e"/><use href="#cCIV" fill="#fcab8e"/><use href="#cGHA" fill="#fcab8e"/><use href="#cBFA" fill="#fcab8e"/><use href="#cNGA" fill="#fcab8e"/><use href="#cCOD" fill="#fb6a4a"/><use href="#cCAF" fill="#fee1d3"/><use href="#cCMR" fill="#fcab8e"/><use href="#cCOG" fill="#fb7a5a"/><use href="#cGAB" fill="#fcab8e"/><use href="#cAGO" fill="#fc9a7b"/><use href="#cZMB" fill="#fcab8e"/><use href="#cETH" fill="#fdcab5"/><use href="#cSOM" fill="#fcbba1"/><use href="#cKEN" fill="#fed9c8"/><use href="#cTZA" fill="#fdcab5"/><use href="#cUGA" fill="#fcab8e"/><use href="#cMOZ" fill="#fcab8e"/><use href="#cMWI" fill="#fcab8e"/><use href="#cZWE" fill="#fcbba1"/><use href="#cZAF" fill="#fee1d3"/><use href="#cNAM" fill="#fed9c8"/><use href="#cBWA" fill="#fdd0bc"/><use href="#cMDG" fill="#fcab8e"/><use href="#cIRQ" fill="#fc8a6a"/><use href="#cIRN" fill="#fcab8e"/><use href="#cAFG" fill="#fc9a7b"/><use href="#cPAK" fill="#fc9a7b"/><use href="#cSAU" fill="#fcc4ad"/><use href="#cYEM" fill="#fcab8e"/><use href="#cOMN" fill="#fcbba1"/><use href="#cSYR" fill="#fc9a7b"/><use href="#cTUR" fill="#fed9c8"/><use href="#cIND" fill="#fcab8e"/><use href="#cBGD" fill="#fc8a6a"/><use href="#cNPL" fill="#fc9a7b"/><use href="#cMMR" fill="#fc9a7b"/><use href="#cTHA" fill="#fc9a7b"/><use href="#cLAO" fill="#fc9a7b"/><use href="#cKHM" fill="#fc9a7b"/><use href="#cVNM" fill="#fcab8e"/><use href="#cMYS" fill="#fc9a7b"/><use href="#cIDN" fill="#fc9a7b"/><use href="#cPHL" fill="#fdcab5"/><use href="#cPNG" fill="#fcbba1"/><use href="#cCHN" fill="#fedccc"/><use href="#cMNG" fill="#fee1d3"/><use href="#cKAZ" fill="#fedccc"/><use href="#cJPN" fill="#ffede4"/><use href="#cKOR" fill="#fed9c8"/><use href="#cPRK" fill="#fed9c8"/><use href="#cAUS" fill="#fed9c8"/><use href="#cNZL" fill="#fee4d8"/><use href="#cGBR" fill="#fee8dd"/><use href="#cIRL" fill="#fee8dd"/><use href="#cFRA" fill="#fee8dd"/><use href="#cDEU" fill="#fee8dd"/><use href="#cNLD" fill="#fee8dd"/><use href="#cBEL" fill="#fee8dd"/><use href="#cCHE" fill="#fee8dd"/><use href="#cAUT" fill="#fee8dd"/><use href="#cITA" fill="#fee8dd"/><use href="#cESP" fill="#fee8dd"/><use href="#cPRT" fill="#fee8dd"/><use href="#cPOL" fill="#fee8dd"/><use href="#cCZE" fill="#fee8dd"/><use href="#cSVK" fill="#fee8dd"/><use href="#cHUN" fill="#fee8dd"/><use href="#cSVN" fill="#fee8dd"/><use href="#cHRV" fill="#fee8dd"/><use href="#cBIH" fill="#fee8dd"/><use href="#cSRB" fill="#fee8dd"/><use href="#cMNE" fill="#fee8dd"/><use href="#cALB" fill="#fee8dd"/><use href="#cMKD" fill="#fee8dd"/><use href="#cGRC" fill="#fee8dd"/><use href="#cBGR" fill="#fee8dd"/><use href="#cROU" fill="#fee8dd"/><use href="#cMDA" fill="#fee8dd"/><use href="#cUKR" fill="#fee8dd"/><use href="#cBLR" fill="#fee8dd"/><use href="#cLTU" fill="#fee8dd"/><use href="#cLVA" fill="#fee8dd"/><use href="#cEST" fill="#fee8dd"/><use href="#cDNK" fill="#fee8dd"/><use href="#cNOR" fill="#fee8dd"/><use href="#cSWE" fill="#fee8dd"/><use href="#cFIN" fill="#fee8dd"/><use href="#cISL" fill="#fee8dd"/><use href="#cALA" fill="#fee1d3"/><use href="#cSJM" fill="#fff0e9"/></g><use href="#arc" fill="#d4d6d8" fill-opacity="0.6"/><use href="#borders" stroke="#cdcdcd" stroke-width="0.3"/><use href="#land" fill="none" stroke="#a8a8a8" stroke-width="0.3"/></svg>
<svg class="m" style="left:19.26px;top:190.90px;width:170.38px;height:77.97px" viewBox="-180 -84 372 141" preserveAspectRatio="none"><use href="#land" fill="#e9f2fb"/><g clip-path="url(#lc)"><use href="#cCAN" fill="#c6dbef"/><use href="#cUSA" fill="#c6dbef"/><use href="#cMEX" fill="#e3eef9"/><use href="#cSLV" fill="#083d7f"/><use href="#cSUR" fill="#08306b"/><use href="#cGUY" fill="#1764ab"/><use href="#cARG" fill="#b6d4e9"/><use href="#cCHL" fill="#bcd7ec"/><use href="#cURY" fill="#08306b"/><use href="#cBRA" fill="#f1f7fd"/><use href="#cCOL" fill="#dfecf7"/><use href="#cVEN" fill="#dfecf7"/><use href="#cPER" fill="#dfecf7"/><use href="#cBOL" fill="#dfecf7"/><use href="#cECU" fill="#dfecf7"/><use href="#cPRY" fill="#d9e8f5"/><use href="#cCUB" fill="#f7fbff"/><use href="#cISL" fill="#2171b5"/><use href="#cNOR" fill="#a6cde4"/><use href="#cSWE" fill="#8cc0dd"/><use href="#cFIN" fill="#94c4df"/><use href="#cGBR" fill="#a6cde4"/><use href="#cIRL" fill="#b6d4e9"/><use href="#cESP" fill="#b6d4e9"/><use href="#cPRT" fill="#b6d4e9"/><use href="#cFRA" fill="#ccdff1"/><use href="#cBIH" fill="#0d57a1"/><use href="#cMNE" fill="#0d57a1"/><use href="#cBGR" fill="#2e7ebc"/><use href="#cMKD" fill="#4a98c9"/><use href="#cDEU" fill="#d9e8f5"/><use href="#cITA" fill="#d9e8f5"/><use href="#cMLI" fill="#6baed6"/><use href="#cNER" fill="#6baed6"/><use href="#cGIN" fill="#0d57a1"/><use href="#cSLE" fill="#0d57a1"/><use href="#cTCD" fill="#d9e8f5"/><use href="#cCAF" fill="#d9e8f5"/><use href="#cETH" fill="#083d7f"/><use href="#cTZA" fill="#5ba3d0"/><use href="#cMOZ" fill="#6baed6"/><use href="#cAGO" fill="#6baed6"/><use href="#cBWA" fill="#1764ab"/><use href="#cKAZ" fill="#d0e1f2"/><use href="#cMNG" fill="#94c4df"/><use href="#cTJK" fill="#b6d4e9"/><use href="#cUZB" fill="#b6d4e9"/><use href="#cOMN" fill="#2e7ebc"/><use href="#cTHA" fill="#94c4df"/><use href="#cKHM" fill="#94c4df"/><use href="#cLKA" fill="#4a98c9"/><use href="#cPNG" fill="#084a92"/><use href="#cAUS" fill="#b6d4e9"/><use href="#cMRT" fill="#d9e8f5"/><use href="#cBFA" fill="#6baed6"/><use href="#cKEN" fill="#6baed6"/><use href="#cZWE" fill="#6baed6"/><use href="#cNZL" fill="#b6d4e9"/><use href="#cALA" fill="#c6dbef"/><use href="#cGRC" fill="#5ba3d0"/><use href="#cJPN" fill="#f7fbff"/><use href="#cHND" fill="#2e7ebc"/><use href="#cSJM" fill="#f1f7fd"/></g><use href="#arc" fill="#d4d6d8" fill-opacity="0.6"/><use href="#borders" stroke="#cdcdcd" stroke-width="0.3"/><use href="#land" fill="none" stroke="#a8a8a8" stroke-width="0.3"/></svg>
<svg class="m" style="left:214.30px;top:190.90px;width:171.49px;height:77.97px" viewBox="-180 -84 372 141" preserveAspectRatio="none"><use href="#land" fill="#fedfd0"/><g clip-path="url(#lc)"><use href="#cCAN" fill="#fee4d8"/><use href="#cUSA" fill="#fee1d3"/><use href="#cMEX" fill="#fca487"/><use href="#cGTM" fill="#fb7a5a"/><use href="#cBLZ" fill="#fc8a6a"/><use href="#cHND" fill="#fc8a6a"/><use href="#cSLV" fill="#fc8a6a"/><use href="#cNIC" fill="#fc8a6a"/><use href="#cCRI" fill="#fc9a7b"/><use href="#cPAN" fill="#fc9a7b"/><use href="#cCUB" fill="#ffede4"/><use href="#cHTI" fill="#fcab8e"/><use href="#cDOM" fill="#fdcab5"/><use href="#cCOL" fill="#fca487"/><use href="#cVEN" fill="#fca487"/><use href="#cGUY" fill="#d92623"/><use href="#cSUR" fill="#cb181d"/><use href="#cGUF" fill="#fc8a6a"/><use href="#cECU" fill="#fcab8e"/><use href="#cPER" fill="#fcab8e"/><use href="#cBRA" fill="#fcab8e"/><use href="#cBOL" fill="#fcc4ad"/><use href="#cPRY" fill="#fcbba1"/><use href="#cARG" fill="#fee1d3"/><use href="#cCHL" fill="#fee1d3"/><use href="#cURY" fill="#fdcab5"/><use href="#cMAR" fill="#fcc4ad"/><use href="#cDZA" fill="#fcc4ad"/><use href="#cTUN" fill="#fdcab5"/><use href="#cLBY" fill="#fdd0bc"/><use href="#cEGY" fill="#fdcab5"/><use href="#cESH" fill="#fdcab5"/><use href="#cMRT" fill="#fcb196"/><use href="#cMLI" fill="#fcb196"/><use href="#cNER" fill="#fcab8e"/><use href="#cTCD" fill="#fcab8e"/><use href="#cSDN" fill="#fdcab5"/><use href="#cSSD" fill="#fdcab5"/><use href="#cSEN" fill="#fcab8e"/><use href="#cGIN" fill="#fcab8e"/><use href="#cCIV" fill="#fcab8e"/><use href="#cGHA" fill="#fcab8e"/><use href="#cBFA" fill="#fcab8e"/><use href="#cNGA" fill="#fcab8e"/><use href="#cCOD" fill="#fb6a4a"/><use href="#cCAF" fill="#fee1d3"/><use href="#cCMR" fill="#fcab8e"/><use href="#cCOG" fill="#fb7a5a"/><use href="#cGAB" fill="#fcab8e"/><use href="#cAGO" fill="#fc9a7b"/><use href="#cZMB" fill="#fcab8e"/><use href="#cETH" fill="#fdcab5"/><use href="#cSOM" fill="#fcbba1"/><use href="#cKEN" fill="#fed9c8"/><use href="#cTZA" fill="#fdcab5"/><use href="#cUGA" fill="#fcab8e"/><use href="#cMOZ" fill="#fcab8e"/><use href="#cMWI" fill="#fcab8e"/><use href="#cZWE" fill="#fcbba1"/><use href="#cZAF" fill="#fee1d3"/><use href="#cNAM" fill="#fed9c8"/><use href="#cBWA" fill="#fdd0bc"/><use href="#cMDG" fill="#f6573e"/><use href="#cIRQ" fill="#fc8a6a"/><use href="#cIRN" fill="#fcb196"/><use href="#cAFG" fill="#fcab8e"/><use href="#cPAK" fill="#fcab8e"/><use href="#cSAU" fill="#fcc4ad"/><use href="#cYEM" fill="#fcab8e"/><use href="#cOMN" fill="#fcbba1"/><use href="#cSYR" fill="#fc9a7b"/><use href="#cTUR" fill="#fed9c8"/><use href="#cIND" fill="#fcab8e"/><use href="#cBGD" fill="#fc8a6a"/><use href="#cNPL" fill="#fc9a7b"/><use href="#cMMR" fill="#fc9a7b"/><use href="#cTHA" fill="#fc9a7b"/><use href="#cLAO" fill="#fc9a7b"/><use href="#cKHM" fill="#fc9a7b"/><use href="#cVNM" fill="#fcab8e"/><use href="#cMYS" fill="#fc9a7b"/><use href="#cIDN" fill="#fc9a7b"/><use href="#cPHL" fill="#fdcab5"/><use href="#cPNG" fill="#fcbba1"/><use href="#cCHN" fill="#fedccc"/><use href="#cMNG" fill="#fee1d3"/><use href="#cKAZ" fill="#fedccc"/><use href="#cJPN" fill="#ffede4"/><use href="#cKOR" fill="#fed9c8"/><use href="#cPRK" fill="#fed9c8"/><use href="#cAUS" fill="#fed9c8"/><use href="#cNZL" fill="#fee4d8"/><use href="#cGBR" fill="#fee8dd"/><use href="#cIRL" fill="#fee8dd"/><use href="#cFRA" fill="#fee8dd"/><use href="#cDEU" fill="#fee8dd"/><use href="#cNLD" fill="#fee8dd"/><use href="#cBEL" fill="#fee8dd"/><use href="#cCHE" fill="#fee8dd"/><use href="#cAUT" fill="#fee8dd"/><use href="#cITA" fill="#fee8dd"/><use href="#cESP" fill="#fee8dd"/><use href="#cPRT" fill="#fee8dd"/><use href="#cPOL" fill="#fee8dd"/><use href="#cCZE" fill="#fee8dd"/><use href="#cSVK" fill="#fee8dd"/><use href="#cHUN" fill="#fee8dd"/><use href="#cSVN" fill="#fee8dd"/><use href="#cHRV" fill="#fee8dd"/><use href="#cBIH" fill="#fee8dd"/><use href="#cSRB" fill="#fee8dd"/><use href="#cMNE" fill="#fee8dd"/><use href="#cALB" fill="#fee8dd"/><use href="#cMKD" fill="#fee8dd"/><use href="#cGRC" fill="#fee8dd"/><use href="#cBGR" fill="#fee8dd"/><use href="#cROU" fill="#fee8dd"/><use href="#cMDA" fill="#fee8dd"/><use href="#cUKR" fill="#fee8dd"/><use href="#cBLR" fill="#fee8dd"/><use href="#cLTU" fill="#fee8dd"/><use href="#cLVA" fill="#fee8dd"/><use href="#cEST" fill="#fee8dd"/><use href="#cDNK" fill="#fee8dd"/><use href="#cNOR" fill="#fee8dd"/><use href="#cSWE" fill="#fee8dd"/><use href="#cFIN" fill="#fee8dd"/><use href="#cISL" fill="#fee8dd"/><use href="#cALA" fill="#fee1d3"/><use href="#cSJM" fill="#fff0e9"/></g><use href="#arc" fill="#d4d6d8" fill-opacity="0.6"/><use href="#borders" stroke="#cdcdcd" stroke-width="0.3"/><use href="#land" fill="none" stroke="#a8a8a8" stroke-width="0.3"/></svg>
<svg class="m" style="left:19.26px;top:282.55px;width:170.38px;height:77.97px" viewBox="-180 -84 372 141" preserveAspectRatio="none"><use href="#land" fill="#e9f2fb"/><g clip-path="url(#lc)"><use href="#cCAN" fill="#94c4df"/><use href="#cUSA" fill="#b6d4e9"/><use href="#cMEX" fill="#f7fbff"/><use href="#cSLV" fill="#f7fbff"/><use href="#cSUR" fill="#083d7f"/><use href="#cGUY" fill="#084a92"/><use href="#cARG" fill="#7fb9da"/><use href="#cCHL" fill="#6baed6"/><use href="#cURY" fill="#083d7f"/><use href="#cBRA" fill="#edf5fc"/><use href="#cCOL" fill="#e3eef9"/><use href="#cVEN" fill="#e3eef9"/><use href="#cPER" fill="#e3eef9"/><use href="#cBOL" fill="#dfecf7"/><use href="#cECU" fill="#dfecf7"/><use href="#cPRY" fill="#d9e8f5"/><use href="#cCUB" fill="#f7fbff"/><use href="#cISL" fill="#1764ab"/><use href="#cNOR" fill="#94c4df"/><use href="#cSWE" fill="#519ccc"/><use href="#cFIN" fill="#5ba3d0"/><use href="#cGBR" fill="#6baed6"/><use href="#cIRL" fill="#7fb9da"/><use href="#cESP" fill="#73b2d8"/><use href="#cPRT" fill="#7fb9da"/><use href="#cFRA" fill="#8cc0dd"/><use href="#cBIH" fill="#0d57a1"/><use href="#cMNE" fill="#0d57a1"/><use href="#cBGR" fill="#2e7ebc"/><use href="#cMKD" fill="#4a98c9"/><use href="#cDEU" fill="#a6cde4"/><use href="#cITA" fill="#d9e8f5"/><use href="#cETH" fill="#0d57a1"/><use href="#cBWA" fill="#084a92"/><use href="#cKAZ" fill="#9cc9e1"/><use href="#cMNG" fill="#5ba3d0"/><use href="#cTJK" fill="#b6d4e9"/><use href="#cUZB" fill="#a6cde4"/><use href="#cOMN" fill="#1764ab"/><use href="#cTHA" fill="#6baed6"/><use href="#cKHM" fill="#6baed6"/><use href="#cLKA" fill="#4a98c9"/><use href="#cPNG" fill="#084a92"/><use href="#cAUS" fill="#8cc0dd"/><use href="#cMDG" fill="#d0e1f2"/><use href="#cTKM" fill="#b6d4e9"/><use href="#cNZL" fill="#6baed6"/><use href="#cALA" fill="#94c4df"/><use href="#cGTM" fill="#f7fbff"/><use href="#cBLZ" fill="#f7fbff"/><use href="#cHND" fill="#f7fbff"/><use href="#cNIC" fill="#f7fbff"/><use href="#cCRI" fill="#f7fbff"/><use href="#cPAN" fill="#f7fbff"/><use href="#cCHE" fill="#a6cde4"/><use href="#cAUT" fill="#a6cde4"/><use href="#cBEL" fill="#a6cde4"/><use href="#cNLD" fill="#a6cde4"/><use href="#cDNK" fill="#b6d4e9"/><use href="#cJPN" fill="#f7fbff"/><use href="#cSJM" fill="#f1f7fd"/></g><use href="#arc" fill="#d4d6d8" fill-opacity="0.6"/><use href="#borders" stroke="#cdcdcd" stroke-width="0.3"/><use href="#land" fill="none" stroke="#a8a8a8" stroke-width="0.3"/></svg>
<svg class="m" style="left:214.30px;top:282.55px;width:171.49px;height:77.97px" viewBox="-180 -84 372 141" preserveAspectRatio="none"><use href="#land" fill="#fedfd0"/><g clip-path="url(#lc)"><use href="#cCAN" fill="#fee4d8"/><use href="#cUSA" fill="#fee1d3"/><use href="#cMEX" fill="#fc9070"/><use href="#cGTM" fill="#fb6a4a"/><use href="#cBLZ" fill="#fc8a6a"/><use href="#cHND" fill="#fb7a5a"/><use href="#cSLV" fill="#fc8a6a"/><use href="#cNIC" fill="#fc8a6a"/><use href="#cCRI" fill="#fc9a7b"/><use href="#cPAN" fill="#fc9a7b"/><use href="#cCUB" fill="#ffede4"/><use href="#cHTI" fill="#fcab8e"/><use href="#cDOM" fill="#fdcab5"/><use href="#cCOL" fill="#fca487"/><use href="#cVEN" fill="#fca487"/><use href="#cGUY" fill="#990c13"/><use href="#cSUR" fill="#d92623"/><use href="#cGUF" fill="#fc8a6a"/><use href="#cECU" fill="#fcab8e"/><use href="#cPER" fill="#fcab8e"/><use href="#cBRA" fill="#fcab8e"/><use href="#cBOL" fill="#fcc4ad"/><use href="#cPRY" fill="#fcbba1"/><use href="#cARG" fill="#fee1d3"/><use href="#cCHL" fill="#fee1d3"/><use href="#cURY" fill="#fdcab5"/><use href="#cMAR" fill="#fcab8e"/><use href="#cDZA" fill="#fcbba1"/><use href="#cTUN" fill="#fdcab5"/><use href="#cLBY" fill="#fdd0bc"/><use href="#cEGY" fill="#fdcab5"/><use href="#cESH" fill="#fdcab5"/><use href="#cMRT" fill="#fb7a5a"/><use href="#cMLI" fill="#fb7a5a"/><use href="#cNER" fill="#fc9070"/><use href="#cTCD" fill="#fc9070"/><use href="#cSDN" fill="#fcab8e"/><use href="#cSSD" fill="#fff0e9"/><use href="#cSEN" fill="#fb7a5a"/><use href="#cGIN" fill="#fb6a4a"/><use href="#cCIV" fill="#fc8a6a"/><use href="#cGHA" fill="#fc9a7b"/><use href="#cBFA" fill="#fc8a6a"/><use href="#cNGA" fill="#fc8a6a"/><use href="#cCOD" fill="#f96245"/><use href="#cCAF" fill="#fb7a5a"/><use href="#cCMR" fill="#fb6a4a"/><use href="#cCOG" fill="#f6573e"/><use href="#cGAB" fill="#fb6a4a"/><use href="#cAGO" fill="#fc8a6a"/><use href="#cZMB" fill="#fc8a6a"/><use href="#cETH" fill="#fcab8e"/><use href="#cSOM" fill="#fcab8e"/><use href="#cKEN" fill="#fc8a6a"/><use href="#cTZA" fill="#fb7a5a"/><use href="#cUGA" fill="#fb6a4a"/><use href="#cMOZ" fill="#fc8a6a"/><use href="#cMWI" fill="#fc8a6a"/><use href="#cZWE" fill="#fcab8e"/><use href="#cZAF" fill="#fed9c8"/><use href="#cNAM" fill="#fdcab5"/><use href="#cBWA" fill="#fdcab5"/><use href="#cMDG" fill="#fb6a4a"/><use href="#cIRQ" fill="#fc8a6a"/><use href="#cIRN" fill="#fcab8e"/><use href="#cAFG" fill="#fc8a6a"/><use href="#cPAK" fill="#fc8a6a"/><use href="#cSAU" fill="#fcc4ad"/><use href="#cYEM" fill="#fcab8e"/><use href="#cOMN" fill="#fcbba1"/><use href="#cSYR" fill="#fc9a7b"/><use href="#cTUR" fill="#fed9c8"/><use href="#cIND" fill="#fc9a7b"/><use href="#cBGD" fill="#fc8a6a"/><use href="#cNPL" fill="#fc9a7b"/><use href="#cMMR" fill="#fb7a5a"/><use href="#cTHA" fill="#fca183"/><use href="#cLAO" fill="#fca183"/><use href="#cKHM" fill="#fca183"/><use href="#cVNM" fill="#fcab8e"/><use href="#cMYS" fill="#fc9a7b"/><use href="#cIDN" fill="#fcab8e"/><use href="#cPHL" fill="#fdcab5"/><use href="#cPNG" fill="#fcbba1"/><use href="#cCHN" fill="#fedccc"/><use href="#cMNG" fill="#fee1d3"/><use href="#cKAZ" fill="#fedccc"/><use href="#cJPN" fill="#ffede4"/><use href="#cKOR" fill="#fed9c8"/><use href="#cPRK" fill="#fed9c8"/><use href="#cAUS" fill="#fed9c8"/><use href="#cNZL" fill="#fee4d8"/><use href="#cGBR" fill="#fee8dd"/><use href="#cIRL" fill="#fee8dd"/><use href="#cFRA" fill="#fee8dd"/><use href="#cDEU" fill="#fee8dd"/><use href="#cNLD" fill="#fee8dd"/><use href="#cBEL" fill="#fee8dd"/><use href="#cCHE" fill="#fee8dd"/><use href="#cAUT" fill="#fee8dd"/><use href="#cITA" fill="#fee8dd"/><use href="#cESP" fill="#fee8dd"/><use href="#cPRT" fill="#fee8dd"/><use href="#cPOL" fill="#fee8dd"/><use href="#cCZE" fill="#fee8dd"/><use href="#cSVK" fill="#fee8dd"/><use href="#cHUN" fill="#fee8dd"/><use href="#cSVN" fill="#fee8dd"/><use href="#cHRV" fill="#fee8dd"/><use href="#cBIH" fill="#fee8dd"/><use href="#cSRB" fill="#fee8dd"/><use href="#cMNE" fill="#fee8dd"/><use href="#cALB" fill="#fee8dd"/><use href="#cMKD" fill="#fee8dd"/><use href="#cGRC" fill="#fee8dd"/><use href="#cBGR" fill="#fee8dd"/><use href="#cROU" fill="#fee8dd"/><use href="#cMDA" fill="#fee8dd"/><use href="#cUKR" fill="#fee8dd"/><use href="#cBLR" fill="#fee8dd"/><use href="#cLTU" fill="#fee8dd"/><use href="#cLVA" fill="#fee8dd"/><use href="#cEST" fill="#fee8dd"/><use href="#cDNK" fill="#fee8dd"/><use href="#cNOR" fill="#fee8dd"/><use href="#cSWE" fill="#fee8dd"/><use href="#cFIN" fill="#fee8dd"/><use href="#cISL" fill="#fee8dd"/><use href="#cSLE" fill="#bc141a"/><use href="#cLBR" fill="#ad1117"/><use href="#cALA" fill="#fee1d3"/><use href="#cSJM" fill="#fff0e9"/></g><use href="#arc" fill="#d4d6d8" fill-opacity="0.6"/><use href="#borders" stroke="#cdcdcd" stroke-width="0.3"/><use href="#land" fill="none" stroke="#a8a8a8" stroke-width="0.3"/></svg>
<svg class="m" style="left:19.26px;top:374.20px;width:170.38px;height:77.97px" viewBox="-180 -84 372 141" preserveAspectRatio="none"><use href="#land" fill="#e9f2fb"/><g clip-path="url(#lc)"><use href="#cCAN" fill="#94c4df"/><use href="#cUSA" fill="#b6d4e9"/><use href="#cMEX" fill="#f7fbff"/><use href="#cSLV" fill="#f7fbff"/><use href="#cSUR" fill="#4a98c9"/><use href="#cGUY" fill="#5ba3d0"/><use href="#cARG" fill="#b6d4e9"/><use href="#cCHL" fill="#94c4df"/><use href="#cURY" fill="#084a92"/><use href="#cBRA" fill="#edf5fc"/><use href="#cCOL" fill="#e3eef9"/><use href="#cVEN" fill="#e3eef9"/><use href="#cPER" fill="#e3eef9"/><use href="#cBOL" fill="#6baed6"/><use href="#cECU" fill="#dfecf7"/><use href="#cPRY" fill="#d9e8f5"/><use href="#cCUB" fill="#f7fbff"/><use href="#cISL" fill="#6baed6"/><use href="#cNOR" fill="#94c4df"/><use href="#cSWE" fill="#3b8bc3"/><use href="#cFIN" fill="#4493c7"/><use href="#cGBR" fill="#4a98c9"/><use href="#cIRL" fill="#7fb9da"/><use href="#cESP" fill="#4a98c9"/><use href="#cPRT" fill="#7fb9da"/><use href="#cFRA" fill="#7fb9da"/><use href="#cBIH" fill="#0d57a1"/><use href="#cMNE" fill="#0d57a1"/><use href="#cBGR" fill="#2e7ebc"/><use href="#cMKD" fill="#4a98c9"/><use href="#cDEU" fill="#a6cde4"/><use href="#cITA" fill="#d9e8f5"/><use href="#cETH" fill="#0d57a1"/><use href="#cBWA" fill="#084a92"/><use href="#cKAZ" fill="#7fb9da"/><use href="#cMNG" fill="#5ba3d0"/><use href="#cTJK" fill="#b6d4e9"/><use href="#cUZB" fill="#a6cde4"/><use href="#cOMN" fill="#1764ab"/><use href="#cTHA" fill="#5ba3d0"/><use href="#cKHM" fill="#6baed6"/><use href="#cLKA" fill="#4a98c9"/><use href="#cPNG" fill="#084a92"/><use href="#cAUS" fill="#7fb9da"/><use href="#cMDG" fill="#d0e1f2"/><use href="#cTKM" fill="#b6d4e9"/><use href="#cNZL" fill="#7fb9da"/><use href="#cALA" fill="#94c4df"/><use href="#cGTM" fill="#f7fbff"/><use href="#cBLZ" fill="#f7fbff"/><use href="#cHND" fill="#f7fbff"/><use href="#cNIC" fill="#f7fbff"/><use href="#cCRI" fill="#f7fbff"/><use href="#cPAN" fill="#f7fbff"/><use href="#cBEL" fill="#a6cde4"/><use href="#cNLD" fill="#a6cde4"/><use href="#cCHE" fill="#b6d4e9"/><use href="#cAUT" fill="#b6d4e9"/><use href="#cEST" fill="#b6d4e9"/><use href="#cLVA" fill="#b6d4e9"/><use href="#cLTU" fill="#c6dbef"/><use href="#cJPN" fill="#f7fbff"/><use href="#cSJM" fill="#f1f7fd"/></g><use href="#arc" fill="#d4d6d8" fill-opacity="0.6"/><use href="#borders" stroke="#cdcdcd" stroke-width="0.3"/><use href="#land" fill="none" stroke="#a8a8a8" stroke-width="0.3"/></svg>
<svg class="m" style="left:214.30px;top:374.20px;width:171.49px;height:77.97px" viewBox="-180 -84 372 141" preserveAspectRatio="none"><use href="#land" fill="#fedfd0"/><g clip-path="url(#lc)"><use href="#cCAN" fill="#fee4d8"/><use href="#cUSA" fill="#fee1d3"/><use href="#cMEX" fill="#fc9070"/><use href="#cGTM" fill="#f6573e"/><use href="#cBLZ" fill="#fc8a6a"/><use href="#cHND" fill="#fb7a5a"/><use href="#cSLV" fill="#fc8a6a"/><use href="#cNIC" fill="#fc8a6a"/><use href="#cCRI" fill="#fc9a7b"/><use href="#cPAN" fill="#fc9a7b"/><use href="#cCUB" fill="#ffede4"/><use href="#cHTI" fill="#fcab8e"/><use href="#cDOM" fill="#fdcab5"/><use href="#cCOL" fill="#fca487"/><use href="#cVEN" fill="#fca487"/><use href="#cGUY" fill="#990c13"/><use href="#cSUR" fill="#d92623"/><use href="#cGUF" fill="#fc8a6a"/><use href="#cECU" fill="#fcab8e"/><use href="#cPER" fill="#fcab8e"/><use href="#cBRA" fill="#fcab8e"/><use href="#cBOL" fill="#fcc4ad"/><use href="#cPRY" fill="#fcbba1"/><use href="#cARG" fill="#fee1d3"/><use href="#cCHL" fill="#fee1d3"/><use href="#cURY" fill="#fdcab5"/><use href="#cMAR" fill="#fcab8e"/><use href="#cDZA" fill="#fcbba1"/><use href="#cTUN" fill="#fdcab5"/><use href="#cLBY" fill="#fdd0bc"/><use href="#cEGY" fill="#fdcab5"/><use href="#cESH" fill="#fdcab5"/><use href="#cMRT" fill="#fb7a5a"/><use href="#cMLI" fill="#fb7a5a"/><use href="#cNER" fill="#fc9070"/><use href="#cTCD" fill="#fc9070"/><use href="#cSDN" fill="#fcab8e"/><use href="#cSSD" fill="#fff0e9"/><use href="#cSEN" fill="#fb7a5a"/><use href="#cGIN" fill="#fb6a4a"/><use href="#cCIV" fill="#fc8a6a"/><use href="#cGHA" fill="#fc9a7b"/><use href="#cBFA" fill="#fc8a6a"/><use href="#cNGA" fill="#fc8a6a"/><use href="#cCOD" fill="#f6573e"/><use href="#cCAF" fill="#fb7a5a"/><use href="#cCMR" fill="#fb6a4a"/><use href="#cCOG" fill="#f6573e"/><use href="#cGAB" fill="#fb6a4a"/><use href="#cAGO" fill="#fc8a6a"/><use href="#cZMB" fill="#fc8a6a"/><use href="#cETH" fill="#fcab8e"/><use href="#cSOM" fill="#fcab8e"/><use href="#cKEN" fill="#fc8a6a"/><use href="#cTZA" fill="#fb7a5a"/><use href="#cUGA" fill="#fb6a4a"/><use href="#cMOZ" fill="#fc8a6a"/><use href="#cMWI" fill="#fc8a6a"/><use href="#cZWE" fill="#fcab8e"/><use href="#cZAF" fill="#fed9c8"/><use href="#cNAM" fill="#fdcab5"/><use href="#cBWA" fill="#fdcab5"/><use href="#cMDG" fill="#fb6a4a"/><use href="#cIRQ" fill="#fc8a6a"/><use href="#cIRN" fill="#fcab8e"/><use href="#cAFG" fill="#fc8a6a"/><use href="#cPAK" fill="#fc8a6a"/><use href="#cSAU" fill="#fcc4ad"/><use href="#cYEM" fill="#fcab8e"/><use href="#cOMN" fill="#fcbba1"/><use href="#cSYR" fill="#fc9a7b"/><use href="#cTUR" fill="#fed9c8"/><use href="#cIND" fill="#fc9a7b"/><use href="#cBGD" fill="#fc8a6a"/><use href="#cNPL" fill="#fc9a7b"/><use href="#cMMR" fill="#fb7a5a"/><use href="#cTHA" fill="#fca183"/><use href="#cLAO" fill="#fca183"/><use href="#cKHM" fill="#fca183"/><use href="#cVNM" fill="#fcab8e"/><use href="#cMYS" fill="#fc9a7b"/><use href="#cIDN" fill="#fcab8e"/><use href="#cPHL" fill="#fdcab5"/><use href="#cPNG" fill="#fcbba1"/><use href="#cCHN" fill="#fedccc"/><use href="#cMNG" fill="#fee1d3"/><use href="#cKAZ" fill="#fedccc"/><use href="#cJPN" fill="#ffede4"/><use href="#cKOR" fill="#fed9c8"/><use href="#cPRK" fill="#fed9c8"/><use href="#cAUS" fill="#fed9c8"/><use href="#cNZL" fill="#fee4d8"/><use href="#cGBR" fill="#fee8dd"/><use href="#cIRL" fill="#fee8dd"/><use href="#cFRA" fill="#fee8dd"/><use href="#cDEU" fill="#fee8dd"/><use href="#cNLD" fill="#fee8dd"/><use href="#cBEL" fill="#fee8dd"/><use href="#cCHE" fill="#fee8dd"/><use href="#cAUT" fill="#fee8dd"/><use href="#cITA" fill="#fee8dd"/><use href="#cESP" fill="#fee8dd"/><use href="#cPRT" fill="#fee8dd"/><use href="#cPOL" fill="#fee8dd"/><use href="#cCZE" fill="#fee8dd"/><use href="#cSVK" fill="#fee8dd"/><use href="#cHUN" fill="#fee8dd"/><use href="#cSVN" fill="#fee8dd"/><use href="#cHRV" fill="#fee8dd"/><use href="#cBIH" fill="#fee8dd"/><use href="#cSRB" fill="#fee8dd"/><use href="#cMNE" fill="#fee8dd"/><use href="#cALB" fill="#fee8dd"/><use href="#cMKD" fill="#fee8dd"/><use href="#cGRC" fill="#fee8dd"/><use href="#cBGR" fill="#fee8dd"/><use href="#cROU" fill="#fee8dd"/><use href="#cMDA" fill="#fee8dd"/><use href="#cUKR" fill="#fee8dd"/><use href="#cBLR" fill="#fee8dd"/><use href="#cLTU" fill="#fee8dd"/><use href="#cLVA" fill="#fee8dd"/><use href="#cEST" fill="#fee8dd"/><use href="#cDNK" fill="#fee8dd"/><use href="#cNOR" fill="#fee8dd"/><use href="#cSWE" fill="#fee8dd"/><use href="#cFIN" fill="#fee8dd"/><use href="#cISL" fill="#fee8dd"/><use href="#cSLE" fill="#bc141a"/><use href="#cLBR" fill="#ad1117"/><use href="#cALA" fill="#fee1d3"/><use href="#cSJM" fill="#fff0e9"/></g><use href="#arc" fill="#d4d6d8" fill-opacity="0.6"/><use href="#borders" stroke="#cdcdcd" stroke-width="0.3"/><use href="#land" fill="none" stroke="#a8a8a8" stroke-width="0.3"/></svg>
<svg class="m" style="left:19.26px;top:465.85px;width:170.38px;height:77.97px" viewBox="-180 -84 372 141" preserveAspectRatio="none"><use href="#land" fill="#e9f2fb"/><g clip-path="url(#lc)"><use href="#cCAN" fill="#d0e1f2"/><use href="#cUSA" fill="#d0e1f2"/><use href="#cMEX" fill="#edf5fc"/><use href="#cSLV" fill="#083d7f"/><use href="#cSUR" fill="#08306b"/><use href="#cGUY" fill="#1764ab"/><use href="#cARG" fill="#b6d4e9"/><use href="#cCHL" fill="#bcd7ec"/><use href="#cURY" fill="#08306b"/><use href="#cBRA" fill="#f1f7fd"/><use href="#cCOL" fill="#dfecf7"/><use href="#cVEN" fill="#dfecf7"/><use href="#cPER" fill="#dfecf7"/><use href="#cBOL" fill="#dfecf7"/><use href="#cECU" fill="#dfecf7"/><use href="#cPRY" fill="#d9e8f5"/><use href="#cCUB" fill="#f7fbff"/><use href="#cISL" fill="#084a92"/><use href="#cNOR" fill="#b6d4e9"/><use href="#cSWE" fill="#8cc0dd"/><use href="#cFIN" fill="#94c4df"/><use href="#cGBR" fill="#a6cde4"/><use href="#cIRL" fill="#b6d4e9"/><use href="#cESP" fill="#b6d4e9"/><use href="#cPRT" fill="#b6d4e9"/><use href="#cFRA" fill="#ccdff1"/><use href="#cBIH" fill="#0d57a1"/><use href="#cMNE" fill="#0d57a1"/><use href="#cBGR" fill="#2e7ebc"/><use href="#cMKD" fill="#4a98c9"/><use href="#cDEU" fill="#d9e8f5"/><use href="#cITA" fill="#d9e8f5"/><use href="#cMLI" fill="#083d7f"/><use href="#cNER" fill="#083d7f"/><use href="#cGIN" fill="#084a92"/><use href="#cSLE" fill="#084a92"/><use href="#cTCD" fill="#e3eef9"/><use href="#cCAF" fill="#4a98c9"/><use href="#cETH" fill="#083d7f"/><use href="#cTZA" fill="#084a92"/><use href="#cMOZ" fill="#1764ab"/><use href="#cAGO" fill="#3b8bc3"/><use href="#cBWA" fill="#0d57a1"/><use href="#cKAZ" fill="#c6dbef"/><use href="#cMNG" fill="#94c4df"/><use href="#cTJK" fill="#b6d4e9"/><use href="#cUZB" fill="#b6d4e9"/><use href="#cOMN" fill="#0d57a1"/><use href="#cTHA" fill="#94c4df"/><use href="#cKHM" fill="#94c4df"/><use href="#cLKA" fill="#4a98c9"/><use href="#cPNG" fill="#084a92"/><use href="#cAUS" fill="#c6dbef"/><use href="#cALA" fill="#d0e1f2"/><use href="#cJPN" fill="#f7fbff"/><use href="#cHND" fill="#2e7ebc"/><use href="#cSJM" fill="#f1f7fd"/></g><use href="#arc" fill="#d4d6d8" fill-opacity="0.6"/><use href="#borders" stroke="#cdcdcd" stroke-width="0.3"/><use href="#land" fill="none" stroke="#a8a8a8" stroke-width="0.3"/></svg>
<svg class="m" style="left:214.30px;top:465.85px;width:171.49px;height:77.97px" viewBox="-180 -84 372 141" preserveAspectRatio="none"><use href="#land" fill="#fedfd0"/><g clip-path="url(#lc)"><use href="#cCAN" fill="#fee4d8"/><use href="#cUSA" fill="#fee1d3"/><use href="#cMEX" fill="#fc9070"/><use href="#cGTM" fill="#fb7a5a"/><use href="#cBLZ" fill="#fc8a6a"/><use href="#cHND" fill="#fc8a6a"/><use href="#cSLV" fill="#fc8a6a"/><use href="#cNIC" fill="#fc8a6a"/><use href="#cCRI" fill="#fc9a7b"/><use href="#cPAN" fill="#fc9a7b"/><use href="#cCUB" fill="#ffede4"/><use href="#cHTI" fill="#fcab8e"/><use href="#cDOM" fill="#fdcab5"/><use href="#cCOL" fill="#fca487"/><use href="#cVEN" fill="#fca487"/><use href="#cGUY" fill="#d92623"/><use href="#cSUR" fill="#cb181d"/><use href="#cGUF" fill="#fc8a6a"/><use href="#cECU" fill="#fcab8e"/><use href="#cPER" fill="#fcab8e"/><use href="#cBRA" fill="#fcab8e"/><use href="#cBOL" fill="#fcc4ad"/><use href="#cPRY" fill="#fcbba1"/><use href="#cARG" fill="#fee1d3"/><use href="#cCHL" fill="#fee1d3"/><use href="#cURY" fill="#fdcab5"/><use href="#cMAR" fill="#fcc4ad"/><use href="#cDZA" fill="#fcc4ad"/><use href="#cTUN" fill="#fdcab5"/><use href="#cLBY" fill="#fdd0bc"/><use href="#cEGY" fill="#fdcab5"/><use href="#cESH" fill="#fdcab5"/><use href="#cMRT" fill="#fcb196"/><use href="#cMLI" fill="#fcb196"/><use href="#cNER" fill="#fcab8e"/><use href="#cTCD" fill="#fcab8e"/><use href="#cSDN" fill="#fdcab5"/><use href="#cSSD" fill="#fdcab5"/><use href="#cSEN" fill="#fcab8e"/><use href="#cGIN" fill="#fcab8e"/><use href="#cCIV" fill="#fcab8e"/><use href="#cGHA" fill="#fcab8e"/><use href="#cBFA" fill="#fcab8e"/><use href="#cNGA" fill="#fcab8e"/><use href="#cCOD" fill="#fb6a4a"/><use href="#cCAF" fill="#fee1d3"/><use href="#cCMR" fill="#fcab8e"/><use href="#cCOG" fill="#fb7a5a"/><use href="#cGAB" fill="#fcab8e"/><use href="#cAGO" fill="#fc9a7b"/><use href="#cZMB" fill="#fcab8e"/><use href="#cETH" fill="#fdcab5"/><use href="#cSOM" fill="#fcbba1"/><use href="#cKEN" fill="#fed9c8"/><use href="#cTZA" fill="#fdcab5"/><use href="#cUGA" fill="#fcab8e"/><use href="#cMOZ" fill="#fcab8e"/><use href="#cMWI" fill="#fcab8e"/><use href="#cZWE" fill="#fcbba1"/><use href="#cZAF" fill="#fee1d3"/><use href="#cNAM" fill="#fed9c8"/><use href="#cBWA" fill="#fdd0bc"/><use href="#cMDG" fill="#fc9a7b"/><use href="#cIRQ" fill="#fc8a6a"/><use href="#cIRN" fill="#fcab8e"/><use href="#cAFG" fill="#fc9a7b"/><use href="#cPAK" fill="#fc9a7b"/><use href="#cSAU" fill="#fcc4ad"/><use href="#cYEM" fill="#fcab8e"/><use href="#cOMN" fill="#fcbba1"/><use href="#cSYR" fill="#fc9a7b"/><use href="#cTUR" fill="#fed9c8"/><use href="#cIND" fill="#fcab8e"/><use href="#cBGD" fill="#fc8a6a"/><use href="#cNPL" fill="#fc9a7b"/><use href="#cMMR" fill="#fc9a7b"/><use href="#cTHA" fill="#fc9a7b"/><use href="#cLAO" fill="#fc9a7b"/><use href="#cKHM" fill="#fc9a7b"/><use href="#cVNM" fill="#fcab8e"/><use href="#cMYS" fill="#fc9a7b"/><use href="#cIDN" fill="#fc9a7b"/><use href="#cPHL" fill="#fdcab5"/><use href="#cPNG" fill="#fcbba1"/><use href="#cCHN" fill="#fedccc"/><use href="#cMNG" fill="#fee1d3"/><use href="#cKAZ" fill="#fedccc"/><use href="#cJPN" fill="#ffede4"/><use href="#cKOR" fill="#fed9c8"/><use href="#cPRK" fill="#fed9c8"/><use href="#cAUS" fill="#fed9c8"/><use href="#cNZL" fill="#fee4d8"/><use href="#cGBR" fill="#fee8dd"/><use href="#cIRL" fill="#fee8dd"/><use href="#cFRA" fill="#fee8dd"/><use href="#cDEU" fill="#fee8dd"/><use href="#cNLD" fill="#fee8dd"/><use href="#cBEL" fill="#fee8dd"/><use href="#cCHE" fill="#fee8dd"/><use href="#cAUT" fill="#fee8dd"/><use href="#cITA" fill="#fee8dd"/><use href="#cESP" fill="#fee8dd"/><use href="#cPRT" fill="#fee8dd"/><use href="#cPOL" fill="#fee8dd"/><use href="#cCZE" fill="#fee8dd"/><use href="#cSVK" fill="#fee8dd"/><use href="#cHUN" fill="#fee8dd"/><use href="#cSVN" fill="#fee8dd"/><use href="#cHRV" fill="#fee8dd"/><use href="#cBIH" fill="#fee8dd"/><use href="#cSRB" fill="#fee8dd"/><use href="#cMNE" fill="#fee8dd"/><use href="#cALB" fill="#fee8dd"/><use href="#cMKD" fill="#fee8dd"/><use href="#cGRC" fill="#fee8dd"/><use href="#cBGR" fill="#fee8dd"/><use href="#cROU" fill="#fee8dd"/><use href="#cMDA" fill="#fee8dd"/><use href="#cUKR" fill="#fee8dd"/><use href="#cBLR" fill="#fee8dd"/><use href="#cLTU" fill="#fee8dd"/><use href="#cLVA" fill="#fee8dd"/><use href="#cEST" fill="#fee8dd"/><use href="#cDNK" fill="#fee8dd"/><use href="#cNOR" fill="#fee8dd"/><use href="#cSWE" fill="#fee8dd"/><use href="#cFIN" fill="#fee8dd"/><use href="#cISL" fill="#fee8dd"/><use href="#cALA" fill="#fee1d3"/><use href="#cSJM" fill="#fff0e9"/></g><use href="#arc" fill="#d4d6d8" fill-opacity="0.6"/><use href="#borders" stroke="#cdcdcd" stroke-width="0.3"/><use href="#land" fill="none" stroke="#a8a8a8" stroke-width="0.3"/></svg>
<div class="lab" style="left:5.8px;top:5.21px">1980&ndash;2000</div>
<div class="lab" style="left:5.8px;top:95.81px">SSP1</div>
<div class="lab" style="left:5.8px;top:187.41px">SSP2</div>
<div class="lab" style="left:5.8px;top:278.71000000000004px">SSP3</div>
<div class="lab" style="left:5.8px;top:370.61px">SSP4</div>
<div class="lab" style="left:5.8px;top:462.41px">SSP5</div>
<div class="cb" style="left:80.05px;top:70.7px;width:47.1px;height:9.1px;background:linear-gradient(to right,#eff3ff,#bdd7e7,#6baed6,#3182bd,#08519c)"></div>
<div class="cbl" style="left:77.14999999999999px;top:83.3px">0%</div>
<div class="cbl" style="left:87.85px;top:83.3px">10%</div>
<div class="cbl" style="left:99.35px;top:83.3px">20%</div>
<div class="cbl" style="left:110.85px;top:83.3px">30%</div>
<div class="cbl" style="left:122.35px;top:83.3px">40%</div>
<div class="cb" style="left:275.7px;top:70.7px;width:47.1px;height:9.1px;background:linear-gradient(to right,#fee5d9,#fcae91,#fb6a4a,#de2d26,#a50f15)"></div>
<div class="cbl" style="left:272.8px;top:83.3px">0%</div>
<div class="cbl" style="left:283.5px;top:83.3px">10%</div>
<div class="cbl" style="left:295.0px;top:83.3px">20%</div>
<div class="cbl" style="left:306.5px;top:83.3px">30%</div>
<div class="cbl" style="left:318.0px;top:83.3px">40%</div>
</body></html>
